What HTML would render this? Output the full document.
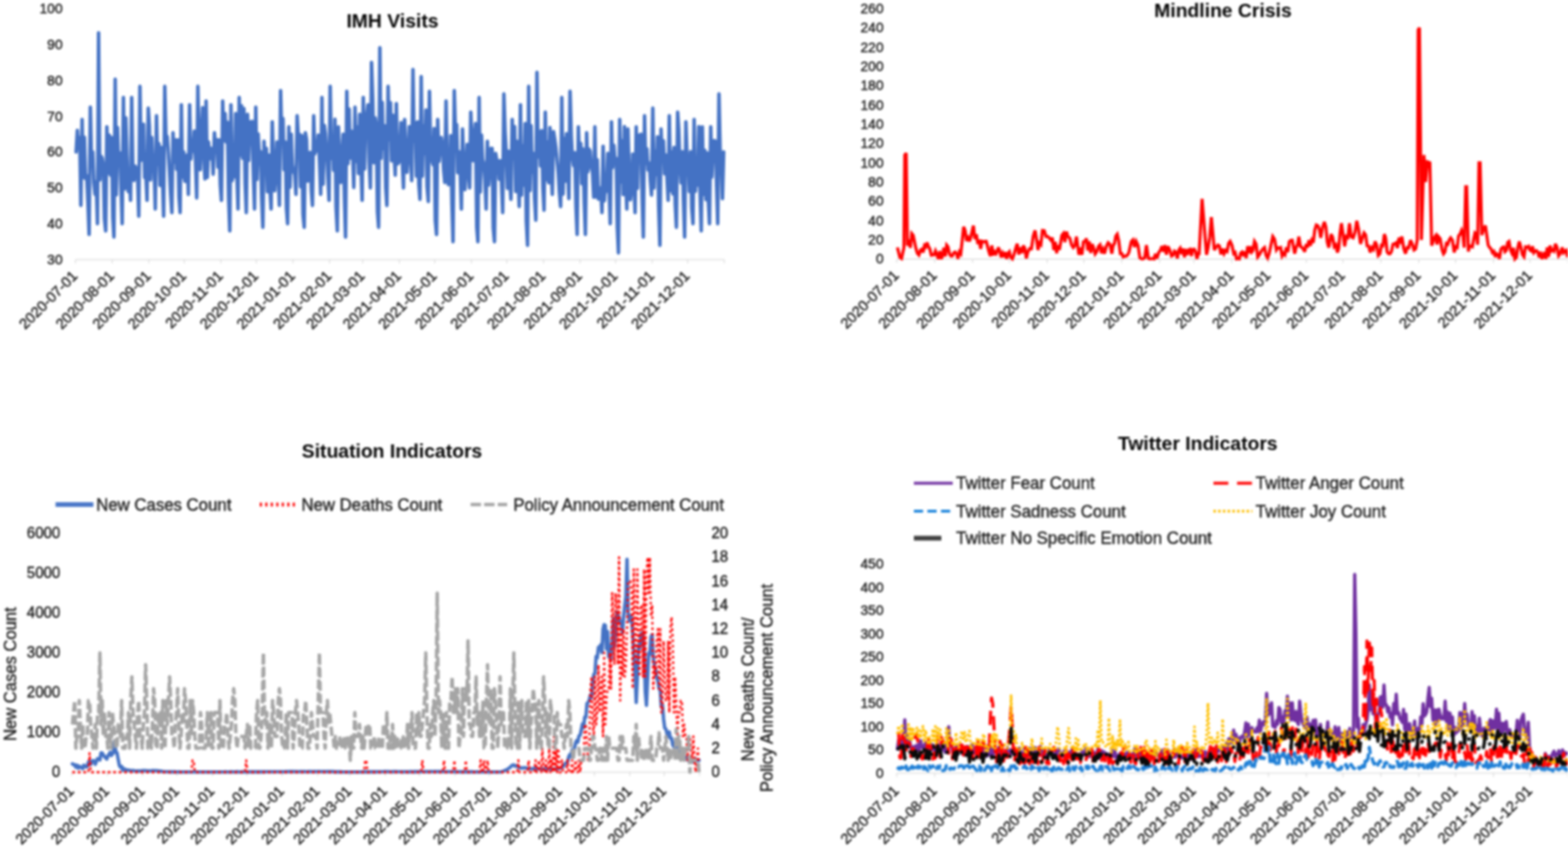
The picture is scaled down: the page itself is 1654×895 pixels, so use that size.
<!DOCTYPE html>
<html lang="en">
<head>
<meta charset="utf-8">
<title>Indicators</title>
<style>
html,body{margin:0;padding:0;background:#fff;}
body{width:1654px;height:895px;overflow:hidden;font-family:"Liberation Sans", Arial, Helvetica, sans-serif;}
svg{display:block;filter:blur(0.8px);}
svg text{font-family:"Liberation Sans", Arial, Helvetica, sans-serif;stroke:#222;stroke-width:0.4px;}
svg text.t{stroke:none;}
</style>
</head>
<body>
<svg width="1654" height="895" viewBox="0 0 1654 895">
<rect x="-10" y="-10" width="1674" height="915" fill="#ffffff"/>
<g id="c1">
<path d="M79.7,274 H764" stroke="#D9D9D9" stroke-width="1" fill="none"/><path d="M79.7,274 v4 M118.3,274 v4 M157,274 v4 M194.4,274 v4 M233,274 v4 M270.4,274 v4 M309,274 v4 M347.7,274 v4 M382.6,274 v4 M421.2,274 v4 M458.6,274 v4 M497.3,274 v4 M534.7,274 v4 M573.3,274 v4 M611.9,274 v4 M649.3,274 v4 M688,274 v4 M725.4,274 v4 M764,274 v4" stroke="#D9D9D9" stroke-width="1" fill="none"/>
<text x="66" y="278.9" text-anchor="end" font-size="14.5" fill="#222222">30</text>
<text x="66" y="241.1" text-anchor="end" font-size="14.5" fill="#222222">40</text>
<text x="66" y="203.2" text-anchor="end" font-size="14.5" fill="#222222">50</text>
<text x="66" y="165.4" text-anchor="end" font-size="14.5" fill="#222222">60</text>
<text x="66" y="127.5" text-anchor="end" font-size="14.5" fill="#222222">70</text>
<text x="66" y="89.6" text-anchor="end" font-size="14.5" fill="#222222">80</text>
<text x="66" y="51.8" text-anchor="end" font-size="14.5" fill="#222222">90</text>
<text x="66" y="13.9" text-anchor="end" font-size="14.5" fill="#222222">100</text>
<text x="82.7" y="292.2" transform="rotate(-45 82.7 292.2)" text-anchor="end" font-size="15.5" fill="#222222">2020-07-01</text>
<text x="121.3" y="292.2" transform="rotate(-45 121.3 292.2)" text-anchor="end" font-size="15.5" fill="#222222">2020-08-01</text>
<text x="160" y="292.2" transform="rotate(-45 160 292.2)" text-anchor="end" font-size="15.5" fill="#222222">2020-09-01</text>
<text x="197.4" y="292.2" transform="rotate(-45 197.4 292.2)" text-anchor="end" font-size="15.5" fill="#222222">2020-10-01</text>
<text x="236" y="292.2" transform="rotate(-45 236 292.2)" text-anchor="end" font-size="15.5" fill="#222222">2020-11-01</text>
<text x="273.4" y="292.2" transform="rotate(-45 273.4 292.2)" text-anchor="end" font-size="15.5" fill="#222222">2020-12-01</text>
<text x="312" y="292.2" transform="rotate(-45 312 292.2)" text-anchor="end" font-size="15.5" fill="#222222">2021-01-01</text>
<text x="350.7" y="292.2" transform="rotate(-45 350.7 292.2)" text-anchor="end" font-size="15.5" fill="#222222">2021-02-01</text>
<text x="385.6" y="292.2" transform="rotate(-45 385.6 292.2)" text-anchor="end" font-size="15.5" fill="#222222">2021-03-01</text>
<text x="424.2" y="292.2" transform="rotate(-45 424.2 292.2)" text-anchor="end" font-size="15.5" fill="#222222">2021-04-01</text>
<text x="461.6" y="292.2" transform="rotate(-45 461.6 292.2)" text-anchor="end" font-size="15.5" fill="#222222">2021-05-01</text>
<text x="500.3" y="292.2" transform="rotate(-45 500.3 292.2)" text-anchor="end" font-size="15.5" fill="#222222">2021-06-01</text>
<text x="537.7" y="292.2" transform="rotate(-45 537.7 292.2)" text-anchor="end" font-size="15.5" fill="#222222">2021-07-01</text>
<text x="576.3" y="292.2" transform="rotate(-45 576.3 292.2)" text-anchor="end" font-size="15.5" fill="#222222">2021-08-01</text>
<text x="614.9" y="292.2" transform="rotate(-45 614.9 292.2)" text-anchor="end" font-size="15.5" fill="#222222">2021-09-01</text>
<text x="652.3" y="292.2" transform="rotate(-45 652.3 292.2)" text-anchor="end" font-size="15.5" fill="#222222">2021-10-01</text>
<text x="691" y="292.2" transform="rotate(-45 691 292.2)" text-anchor="end" font-size="15.5" fill="#222222">2021-11-01</text>
<text x="728.4" y="292.2" transform="rotate(-45 728.4 292.2)" text-anchor="end" font-size="15.5" fill="#222222">2021-12-01</text>
<text x="414" y="28.8" text-anchor="middle" font-size="20.4" font-weight="bold" fill="#050505" class="t">IMH Visits</text>
<path d="M80.3,160.4 L81.6,137.7 L82.8,156.6 L84.1,145.3 L85.3,216.8 L86.6,126 L87.8,187.5 L89,144.8 L90.3,188.7 L91.5,185.5 L92.8,214.7 L94,247.5 L95.3,113.1 L96.5,168.1 L97.8,160.4 L99,193.1 L100.3,205.1 L101.5,191.9 L102.8,236.1 L104,34.7 L105.3,189.8 L106.5,164.8 L107.7,166.7 L109,174.3 L110.2,231.3 L111.5,243.7 L112.7,133.9 L114,182.6 L115.2,142.6 L116.5,185 L117.7,145.2 L119,229.3 L120.2,250.2 L121.5,83.6 L122.7,205.7 L123.9,134.7 L125.2,173.8 L126.4,161.3 L127.7,198.7 L128.9,236.1 L130.2,102.9 L131.4,199.5 L132.7,124.3 L133.9,164.2 L135.2,202.1 L136.4,184.2 L137.7,211.5 L138.9,102.9 L140.2,180.8 L141.4,190.4 L142.6,175.4 L143.9,178.1 L145.1,184 L146.4,228.2 L147.6,91.2 L148.9,169.1 L150.1,168.4 L151.4,131 L152.6,187.5 L153.9,184.9 L155.1,211.5 L156.4,114.2 L157.6,133 L158.8,189.9 L160.1,145.2 L161.3,173.6 L162.6,176.2 L163.8,220.6 L165.1,122.2 L166.3,173.5 L167.6,151.7 L168.8,195.6 L170.1,155.5 L171.3,183.1 L172.6,228.2 L173.8,91.2 L175.1,147.4 L176.3,144.1 L177.5,160.5 L178.8,181.3 L180,204.8 L181.3,224.4 L182.5,140 L183.8,171 L185,147.6 L186.3,178.7 L187.5,147.6 L188.8,207.8 L190,224.4 L191.3,110.5 L192.5,186.9 L193.8,160.4 L195,191.3 L196.2,191.3 L197.5,163.7 L198.7,205.1 L200,110.5 L201.2,167.8 L202.5,151.4 L203.7,159.4 L205,138.4 L206.2,169.5 L207.5,208.9 L208.7,91.2 L210,161.3 L211.2,179.1 L212.4,139.6 L213.7,113.6 L214.9,160.4 L216.2,188.8 L217.4,106.7 L218.7,187.3 L219.9,149.8 L221.2,167.6 L222.4,156.4 L223.7,160.4 L224.9,183.9 L226.2,140 L227.4,154.6 L228.7,147.6 L229.9,176.4 L231.1,147.6 L232.4,195.4 L233.6,211.5 L234.9,106.7 L236.1,148.3 L237.4,119.9 L238.6,150 L239.9,129 L241.1,207.5 L242.4,243.7 L243.6,110.5 L244.9,190.7 L246.1,171.8 L247.3,186.6 L248.6,119.8 L249.8,182.2 L251.1,220.6 L252.3,102.9 L253.6,163.7 L254.8,111.6 L256.1,167.2 L257.3,114.6 L258.6,193.5 L259.8,224.4 L261.1,120.7 L262.3,169.5 L263.6,129 L264.8,128.5 L266,128.2 L267.3,184.5 L268.5,220.6 L269.8,113.1 L271,189.5 L272.3,141.3 L273.5,163.9 L274.8,159.9 L276,208.1 L277.3,239.9 L278.5,149.1 L279.8,173.8 L281,156.6 L282.2,202.4 L283.5,163.5 L284.7,199 L286,220.6 L287.2,128.6 L288.5,172.2 L289.7,201.4 L291,182 L292.2,149.9 L293.5,182.8 L294.7,216.8 L296,95.7 L297.2,145.3 L298.5,125.1 L299.7,179.1 L300.9,149.9 L302.2,220.1 L303.4,236.1 L304.7,133.9 L305.9,197.6 L307.2,141.5 L308.4,174.2 L309.7,181.3 L310.9,184.4 L312.2,205.1 L313.4,122.2 L314.7,145 L315.9,141.7 L317.1,197.1 L318.4,143.2 L319.6,226 L320.9,239.9 L322.1,140 L323.4,147.6 L324.6,191.2 L325.9,174.5 L327.1,160.8 L328.4,200.8 L329.6,216.8 L330.9,122.2 L332.1,162.4 L333.4,151.4 L334.6,159.2 L335.8,142.5 L337.1,172.4 L338.3,205.1 L339.6,102.9 L340.8,194.5 L342.1,132.3 L343.3,140.9 L344.6,161.1 L345.8,184.1 L347.1,211.5 L348.3,91.2 L349.6,167.1 L350.8,144.5 L352,179.8 L353.3,125.9 L354.5,218.9 L355.8,243.7 L357,133.9 L358.3,192.1 L359.5,192.5 L360.8,158.3 L362,141.5 L363.3,207.8 L364.5,250.2 L365.8,96.4 L367,172.8 L368.3,115.1 L369.5,166.9 L370.7,138.3 L372,162 L373.2,197.9 L374.5,113.1 L375.7,170.5 L377,134.1 L378.2,183.1 L379.5,120.7 L380.7,173.2 L382,211.5 L383.2,102.9 L384.5,178.4 L385.7,125.7 L386.9,121.6 L388.2,110.5 L389.4,170.3 L390.7,198.3 L391.9,65.8 L393.2,105 L394.4,171.8 L395.7,124.3 L396.9,132.1 L398.2,223.5 L399.4,239.9 L400.7,50.3 L401.9,167.1 L403.2,108 L404.4,157 L405.6,132.6 L406.9,197.9 L408.1,216.8 L409.4,91.2 L410.6,147.3 L411.9,108.3 L413.1,169.8 L414.4,121.5 L415.6,160.7 L416.9,185 L418.1,109.3 L419.4,172.9 L420.6,171.6 L421.8,158.8 L423.1,129.3 L424.3,168.7 L425.6,198.3 L426.8,126 L428.1,165.9 L429.3,181.9 L430.6,158.9 L431.8,133.6 L433.1,162.6 L434.3,190.7 L435.6,73.4 L436.8,148.8 L438.1,129.6 L439.3,186 L440.5,128.6 L441.8,194.7 L443,210.4 L444.3,80.9 L445.5,185.9 L446.8,133 L448,161.8 L449.3,116.2 L450.5,196.9 L451.8,212.7 L453,96.4 L454.3,159.5 L455.5,168.9 L456.8,173.8 L458,135.6 L459.2,232.6 L460.5,247.5 L461.7,126 L463,170.3 L464.2,155.7 L465.5,145 L466.7,152.4 L468,179.5 L469.2,192.6 L470.5,106.7 L471.7,175 L473,194.8 L474.2,190.6 L475.4,143.2 L476.7,214.5 L477.9,255.1 L479.2,95.7 L480.4,138.2 L481.7,131.5 L482.9,182.3 L484.2,160.2 L485.4,180.8 L486.7,220.6 L487.9,136.2 L489.2,175.3 L490.4,200.1 L491.7,173.9 L492.9,152.4 L494.1,181.4 L495.4,198.3 L496.6,118.4 L497.9,153.6 L499.1,169.7 L500.4,142.1 L501.6,130.3 L502.9,239.8 L504.1,255.1 L505.4,102.9 L506.6,202.6 L507.9,142.6 L509.1,168.3 L510.3,172.9 L511.6,190.5 L512.8,220.6 L514.1,149.1 L515.3,195.4 L516.6,179.5 L517.8,156.6 L519.1,156.6 L520.3,240.5 L521.6,255.1 L522.8,161.9 L524.1,169.5 L525.3,169.5 L526.6,189.2 L527.8,169.5 L529,192.6 L530.3,224.4 L531.5,99.1 L532.8,139.3 L534,160.7 L535.3,198.8 L536.5,159.6 L537.8,193.4 L539,210.4 L540.3,126 L541.5,167.4 L542.8,133.6 L544,202.1 L545.2,149.1 L546.5,186.2 L547.7,218 L549,110.5 L550.2,205.9 L551.5,154 L552.7,195.5 L554,130.3 L555.2,233.7 L556.5,258.9 L557.7,91.2 L559,201.2 L560.2,132.7 L561.5,181.7 L562.7,161.9 L563.9,209.4 L565.2,232.4 L566.4,76.4 L567.7,165.7 L568.9,138.8 L570.2,175.1 L571.4,137.8 L572.7,198.9 L573.9,221.8 L575.2,118.4 L576.4,189.6 L577.7,149.8 L578.9,192.9 L580.1,134.5 L581.4,177.7 L582.6,205.1 L583.9,138.8 L585.1,146.4 L586.4,156 L587.6,168.9 L588.9,182.5 L590.1,203.3 L591.4,218 L592.6,102.9 L593.9,205 L595.1,146.2 L596.4,191.1 L597.6,141 L598.8,179 L600.1,209.6 L601.3,96.4 L602.6,143 L603.8,166.1 L605.1,174.8 L606.3,161.2 L607.6,219.3 L608.8,247.5 L610.1,133.9 L611.3,171.2 L612.6,151.4 L613.8,193.9 L615,157.2 L616.3,213.8 L617.5,247.5 L618.8,140 L620,181.4 L621.3,157.4 L622.5,159.7 L623.8,176.5 L625,181.5 L626.3,208.1 L627.5,133.9 L628.8,207.9 L630,168.6 L631.3,210.1 L632.5,208.6 L633.7,198.4 L635,224.4 L636.2,154.4 L637.5,211.9 L638.7,193.3 L640,201.8 L641.2,161.9 L642.5,197 L643.7,236.1 L645,128.6 L646.2,177 L647.5,153.3 L648.7,170.2 L650,167.3 L651.2,240.4 L652.4,266.8 L653.7,126 L654.9,191.8 L656.2,148.7 L657.4,205.4 L658.7,133.6 L659.9,184.6 L661.2,220.6 L662.4,136.2 L663.7,183.4 L664.9,210.8 L666.2,199.7 L667.4,162.5 L668.6,189.7 L669.9,224.4 L671.1,133.9 L672.4,198.8 L673.6,142.9 L674.9,164 L676.1,141.5 L677.4,208.9 L678.6,250.2 L679.9,122.2 L681.1,172.3 L682.4,157.2 L683.6,179.3 L684.9,172.1 L686.1,191.6 L687.3,205.9 L688.6,114.2 L689.8,198.4 L691.1,160 L692.3,184.2 L693.6,144.3 L694.8,218.9 L696.1,258.9 L697.3,136.2 L698.6,169.8 L699.8,148.7 L701.1,183.4 L702.3,163.7 L703.5,185.7 L704.8,211.5 L706,122.2 L707.3,201.2 L708.5,160.3 L709.8,204.7 L711,155.7 L712.3,216 L713.5,239.9 L714.8,118.4 L716,136.6 L717.3,176.4 L718.5,193 L719.8,160.2 L721,212.4 L722.2,250.2 L723.5,128.6 L724.7,163.3 L726,168.6 L727.2,202.1 L728.5,160 L729.7,219.9 L731,236.1 L732.2,126 L733.5,202 L734.7,166.9 L736,195.5 L737.2,133.6 L738.4,201.2 L739.7,243.7 L740.9,133.9 L742.2,205.2 L743.4,158.6 L744.7,210.7 L745.9,161.4 L747.2,212.5 L748.4,236.1 L749.7,133.9 L750.9,186.9 L752.2,155.6 L753.4,148.3 L754.7,149.3 L755.9,196.3 L757.1,236.1 L758.4,99.1 L759.6,156.6 L760.9,171.8 L762.1,209.6 L763.4,160.4" fill="none" stroke="#4472C4" stroke-width="3.7" stroke-linejoin="round" stroke-linecap="round"/>
</g>
<g id="c2">
<path d="M946,273.5 H1654" stroke="#D9D9D9" stroke-width="1" fill="none"/><path d="M946,273.5 v4 M986,273.5 v4 M1026,273.5 v4 M1064.6,273.5 v4 M1104.6,273.5 v4 M1143.3,273.5 v4 M1183.3,273.5 v4 M1223.3,273.5 v4 M1259.4,273.5 v4 M1299.4,273.5 v4 M1338,273.5 v4 M1378,273.5 v4 M1416.7,273.5 v4 M1456.7,273.5 v4 M1496.7,273.5 v4 M1535.4,273.5 v4 M1575.3,273.5 v4 M1614,273.5 v4 M1654,273.5 v4" stroke="#D9D9D9" stroke-width="1" fill="none"/>
<text x="932" y="278.4" text-anchor="end" font-size="14.5" fill="#222222">0</text>
<text x="932" y="258.1" text-anchor="end" font-size="14.5" fill="#222222">20</text>
<text x="932" y="237.7" text-anchor="end" font-size="14.5" fill="#222222">40</text>
<text x="932" y="217.4" text-anchor="end" font-size="14.5" fill="#222222">60</text>
<text x="932" y="197" text-anchor="end" font-size="14.5" fill="#222222">80</text>
<text x="932" y="176.7" text-anchor="end" font-size="14.5" fill="#222222">100</text>
<text x="932" y="156.4" text-anchor="end" font-size="14.5" fill="#222222">120</text>
<text x="932" y="136" text-anchor="end" font-size="14.5" fill="#222222">140</text>
<text x="932" y="115.7" text-anchor="end" font-size="14.5" fill="#222222">160</text>
<text x="932" y="95.3" text-anchor="end" font-size="14.5" fill="#222222">180</text>
<text x="932" y="75" text-anchor="end" font-size="14.5" fill="#222222">200</text>
<text x="932" y="54.6" text-anchor="end" font-size="14.5" fill="#222222">220</text>
<text x="932" y="34.3" text-anchor="end" font-size="14.5" fill="#222222">240</text>
<text x="932" y="13.9" text-anchor="end" font-size="14.5" fill="#222222">260</text>
<text x="949" y="291.7" transform="rotate(-45 949 291.7)" text-anchor="end" font-size="15.5" fill="#222222">2020-07-01</text>
<text x="989" y="291.7" transform="rotate(-45 989 291.7)" text-anchor="end" font-size="15.5" fill="#222222">2020-08-01</text>
<text x="1029" y="291.7" transform="rotate(-45 1029 291.7)" text-anchor="end" font-size="15.5" fill="#222222">2020-09-01</text>
<text x="1067.6" y="291.7" transform="rotate(-45 1067.6 291.7)" text-anchor="end" font-size="15.5" fill="#222222">2020-10-01</text>
<text x="1107.6" y="291.7" transform="rotate(-45 1107.6 291.7)" text-anchor="end" font-size="15.5" fill="#222222">2020-11-01</text>
<text x="1146.3" y="291.7" transform="rotate(-45 1146.3 291.7)" text-anchor="end" font-size="15.5" fill="#222222">2020-12-01</text>
<text x="1186.3" y="291.7" transform="rotate(-45 1186.3 291.7)" text-anchor="end" font-size="15.5" fill="#222222">2021-01-01</text>
<text x="1226.3" y="291.7" transform="rotate(-45 1226.3 291.7)" text-anchor="end" font-size="15.5" fill="#222222">2021-02-01</text>
<text x="1262.4" y="291.7" transform="rotate(-45 1262.4 291.7)" text-anchor="end" font-size="15.5" fill="#222222">2021-03-01</text>
<text x="1302.4" y="291.7" transform="rotate(-45 1302.4 291.7)" text-anchor="end" font-size="15.5" fill="#222222">2021-04-01</text>
<text x="1341" y="291.7" transform="rotate(-45 1341 291.7)" text-anchor="end" font-size="15.5" fill="#222222">2021-05-01</text>
<text x="1381" y="291.7" transform="rotate(-45 1381 291.7)" text-anchor="end" font-size="15.5" fill="#222222">2021-06-01</text>
<text x="1419.7" y="291.7" transform="rotate(-45 1419.7 291.7)" text-anchor="end" font-size="15.5" fill="#222222">2021-07-01</text>
<text x="1459.7" y="291.7" transform="rotate(-45 1459.7 291.7)" text-anchor="end" font-size="15.5" fill="#222222">2021-08-01</text>
<text x="1499.7" y="291.7" transform="rotate(-45 1499.7 291.7)" text-anchor="end" font-size="15.5" fill="#222222">2021-09-01</text>
<text x="1538.4" y="291.7" transform="rotate(-45 1538.4 291.7)" text-anchor="end" font-size="15.5" fill="#222222">2021-10-01</text>
<text x="1578.3" y="291.7" transform="rotate(-45 1578.3 291.7)" text-anchor="end" font-size="15.5" fill="#222222">2021-11-01</text>
<text x="1617" y="291.7" transform="rotate(-45 1617 291.7)" text-anchor="end" font-size="15.5" fill="#222222">2021-12-01</text>
<text x="1290" y="17.8" text-anchor="middle" font-size="20.4" font-weight="bold" fill="#050505" class="t">Mindline Crisis</text>
<path d="M946.6,261.2 L949.2,271.5 L951,272.8 L953.5,261.3 L954.4,163.6 L955.9,161.6 L957.2,259.3 L958.8,252.9 L960.3,261.6 L961.8,246.5 L963.3,248.4 L965.9,261.2 L967.6,267.2 L969.3,269.1 L971.1,263.8 L972.4,263 L973.8,266.4 L975.2,259.2 L976.5,260.5 L977.9,256 L979.3,260 L980.8,262.6 L982.4,269.3 L983.9,268.9 L985.4,268.9 L986.8,264.9 L988.3,268.8 L989.8,273.2 L991.3,265 L992.7,273.2 L994.2,270.2 L995.6,261.6 L997.1,270.5 L998.6,258.7 L1000,260.4 L1001.5,267.9 L1003,270.2 L1004.5,270.2 L1006,266.9 L1007.5,266.1 L1009,267.7 L1010.5,273.2 L1012,265.9 L1013.5,267.7 L1015,253.7 L1016.5,239.4 L1018.1,243.7 L1019.6,254.4 L1021.2,251 L1022.6,254.7 L1024,250.3 L1025.4,244.2 L1026.8,238.1 L1028.4,252.4 L1029.9,247.3 L1031.5,257.4 L1032.9,253 L1034.4,262.6 L1035.9,254.7 L1037.3,255.2 L1038.8,254.9 L1040.3,254.8 L1041.7,260 L1043.2,265.7 L1044.7,270.2 L1046.2,259.1 L1047.7,269.4 L1049.2,265.9 L1050.7,267.7 L1053.3,261.2 L1054.7,265.8 L1056.2,271.6 L1057.6,267.5 L1059,271.3 L1060.4,266.1 L1061.9,273.2 L1063.3,267.4 L1064.7,265.7 L1066.1,271.5 L1067.9,273.2 L1069.6,268.8 L1071.3,262.5 L1073,257.3 L1074.7,268.6 L1076.4,261.2 L1078,267.2 L1079.5,259.1 L1081.1,262.3 L1082.6,272.7 L1084.1,266.4 L1086.1,262.4 L1088,262.5 L1089.9,249.3 L1091.8,243.3 L1093.4,252.4 L1094.9,263.8 L1096.5,256.6 L1098,258.2 L1099.6,243.3 L1101.5,243.5 L1103.4,249.7 L1105.1,249.6 L1106.8,251.2 L1108.6,253.5 L1110.1,250.9 L1111.6,263.9 L1113.1,255.3 L1114.6,267.2 L1116,258.7 L1117.5,263.8 L1120.1,248.4 L1121.7,246.5 L1123.3,255.5 L1124.9,244.6 L1126.5,249.7 L1128.5,251.4 L1130.4,258.7 L1132.1,261.3 L1133.8,259 L1135.5,249.7 L1138.1,268.9 L1139.7,261.3 L1141.3,268.9 L1142.9,255.3 L1144.5,254.8 L1146,251.8 L1147.5,264.2 L1149,254.7 L1150.5,267 L1152,257.7 L1153.5,261.2 L1155.2,268 L1157,265.6 L1158.7,260 L1160.3,258.4 L1161.9,267.3 L1163.5,263 L1165.1,267.7 L1167,260 L1168.9,256.1 L1170.9,258.1 L1172.8,267.7 L1174.2,259 L1175.6,257 L1177,249.1 L1178.5,247.1 L1180.1,254.1 L1181.8,267.7 L1183.3,267.7 L1184.8,271 L1186.3,270.3 L1187.8,270.4 L1189.3,269.3 L1190.8,266.4 L1193.4,254.8 L1195.1,253.2 L1196.8,260.7 L1198.5,254.8 L1200.4,258.9 L1202.4,272 L1204.1,273.2 L1205.8,273.2 L1207.5,272 L1209.3,258.7 L1211.4,272.8 L1212.9,273.2 L1214.4,273.2 L1215.9,272.8 L1217.3,273.2 L1218.8,267.9 L1220.3,272.8 L1222.3,266.5 L1224.2,263.8 L1225.7,259.9 L1227.3,265.6 L1228.8,258.8 L1230.4,268.7 L1231.9,260 L1233.8,263.6 L1235.8,270.2 L1237.3,269.4 L1238.9,265 L1240.4,266.1 L1241.9,272.6 L1243.5,263.8 L1244.9,261.9 L1246.4,268 L1247.9,262.2 L1249.4,271.5 L1250.8,262.9 L1252.3,269.1 L1253.8,263.8 L1255.2,263.1 L1256.7,270.2 L1258.2,263.3 L1259.6,263 L1261.1,265.4 L1262.6,273.2 L1264,267.7 L1264.9,267.7 L1268,209.9 L1272.7,268.9 L1274.4,261.2 L1276.1,250.2 L1277.8,229.2 L1279.3,245.6 L1280.9,263.8 L1282.8,260.9 L1284.7,258.7 L1286.3,259.8 L1287.9,268.4 L1289.5,262.5 L1291.2,267.7 L1292.8,264.3 L1294.4,265.5 L1296,256.7 L1297.6,254.8 L1299.5,258.8 L1301.4,267.7 L1302.9,266.5 L1304.4,273.2 L1305.8,272.7 L1307.3,273.2 L1308.8,266.9 L1310.2,266 L1311.7,270.2 L1313.2,265.6 L1314.6,272.4 L1316.1,259.9 L1317.5,267.3 L1318.9,260 L1320.4,265.9 L1321.8,264 L1323.3,254.8 L1325,257.6 L1326.7,271.1 L1328.4,268.9 L1330.3,265.4 L1332.3,262.5 L1333.9,261.2 L1335.5,269.5 L1337.1,272.2 L1338.7,267.7 L1340.6,258.8 L1342.6,249.7 L1344.5,252.7 L1346.4,263.8 L1347.9,261.5 L1349.4,262 L1350.9,261.3 L1352.4,270 L1353.9,267.4 L1355.4,268.9 L1356.9,261 L1358.5,266.1 L1360,255.1 L1361.6,253.7 L1363.1,253.5 L1365.7,267.7 L1367.1,261.3 L1368.6,258.5 L1370.1,249.7 L1371.7,260.1 L1373.4,261.2 L1374.9,263 L1376.3,265.7 L1377.8,257.7 L1379.3,261.1 L1380.7,253.5 L1382.2,259.3 L1383.7,253.5 L1385.3,256.1 L1386.9,242.8 L1388.5,237.4 L1390.1,238.1 L1391.6,241.6 L1393.2,251 L1395.1,240.1 L1397,234.3 L1398.6,239.6 L1400.1,255.5 L1401.7,261.2 L1404.2,247.1 L1405.8,250.4 L1407.4,260.3 L1409.1,258.4 L1410.7,266.4 L1412.1,262.4 L1413.6,245.6 L1415,235.6 L1416.7,246.9 L1418.4,260 L1420.1,249.6 L1421.8,250.7 L1423.5,235.6 L1425.4,249.9 L1427.4,251 L1429.3,245.4 L1431.2,233 L1433.1,241.9 L1435.1,257.4 L1437,251.5 L1438.9,245.8 L1440.5,247.8 L1442.1,259.4 L1443.7,259.8 L1445.4,266.4 L1447.1,261.2 L1448.8,263.2 L1450.5,254.8 L1452.2,258.8 L1453.9,269.5 L1455.6,267.7 L1457.2,258.9 L1458.7,259.4 L1460.3,247.1 L1461.7,251.3 L1463.2,265.6 L1464.6,267.7 L1466.2,267.8 L1467.8,265.3 L1469.4,257.8 L1471.1,257.4 L1472.6,256.4 L1474.1,261.8 L1475.7,250.9 L1477.2,254.3 L1478.8,249.7 L1480.7,262.1 L1482.6,267.7 L1484.3,261.3 L1486,261.6 L1487.8,253.5 L1489.7,257.6 L1491.6,263.8 L1493.3,262.6 L1495,253.2 L1496,31.4 L1497.3,29.3 L1499.4,253.2 L1502,163.6 L1503.8,192.1 L1505.7,170.8 L1508.3,171.8 L1510.2,259.3 L1511.6,255.2 L1513.1,250.8 L1514.5,248.8 L1515.9,257.9 L1517.3,249.7 L1519.2,252 L1521.2,263.8 L1522.7,267.9 L1524.2,265.8 L1525.7,257 L1527.2,257.9 L1528.7,253.2 L1530.2,251 L1532.1,253.7 L1534,266.4 L1535.6,260.5 L1537.1,261.3 L1538.6,249 L1540.2,247.1 L1541.7,243.3 L1543.1,247.5 L1544.5,261.3 L1546.1,197.2 L1547.1,197.2 L1548.9,265.4 L1550.3,259.6 L1551.7,260.1 L1553.1,260.6 L1554.5,252.5 L1555.9,245.8 L1557.3,247 L1558.7,258.2 L1560.1,171.8 L1561.3,171.8 L1563.1,248.1 L1565,241.7 L1566.9,238.1 L1568.4,248.8 L1569.8,258.8 L1571.3,261.2 L1572.8,262.7 L1574.3,266.6 L1575.8,265.3 L1577.3,271.2 L1578.8,267.9 L1580.3,268.9 L1581.7,273.2 L1583.2,263.1 L1584.6,261.2 L1586.1,260.6 L1587.5,265.7 L1589,264.2 L1590.4,255.9 L1591.8,254.8 L1593.4,263.7 L1594.9,267.2 L1596.5,261.8 L1598,273.2 L1599.6,271.5 L1601.1,261.2 L1602.6,254.8 L1604.3,261.1 L1606,268.9 L1607.6,271 L1609.2,260.6 L1610.8,261 L1612.4,260 L1613.8,263.9 L1615.2,264.8 L1616.6,260 L1618,266.6 L1619.4,264.9 L1620.8,264.5 L1622.2,266.4 L1623.6,271.7 L1625,265.7 L1626.4,273.2 L1627.8,270.2 L1629.3,266.1 L1630.7,273.2 L1632.1,261.1 L1633.5,271 L1635,259.1 L1636.4,264.9 L1637.8,263.7 L1639.2,265.1 L1640.7,257.4 L1642.4,261 L1644.1,269.9 L1645.8,267.7 L1647.9,261.2 L1649.3,266.6 L1650.7,264.9 L1652.1,264.1 L1653.5,271.5" fill="none" stroke="#FF0000" stroke-width="3.2" stroke-linejoin="miter" stroke-miterlimit="3"/>
</g>
<g id="c3">
<path d="M75.8,815 H738" stroke="#D9D9D9" stroke-width="1" fill="none"/><path d="M75.8,815 v4 M113.2,815 v4 M150.6,815 v4 M186.8,815 v4 M224.2,815 v4 M260.3,815 v4 M297.7,815 v4 M335.1,815 v4 M368.9,815 v4 M406.3,815 v4 M442.5,815 v4 M479.9,815 v4 M516.1,815 v4 M553.5,815 v4 M590.8,815 v4 M627,815 v4 M664.4,815 v4 M700.6,815 v4 M738,815 v4" stroke="#D9D9D9" stroke-width="1" fill="none"/>
<text x="63.5" y="820.2" text-anchor="end" font-size="15.8" fill="#222222">0</text>
<text x="63.5" y="778.2" text-anchor="end" font-size="15.8" fill="#222222">1000</text>
<text x="63.5" y="736.2" text-anchor="end" font-size="15.8" fill="#222222">2000</text>
<text x="63.5" y="694.2" text-anchor="end" font-size="15.8" fill="#222222">3000</text>
<text x="63.5" y="652.2" text-anchor="end" font-size="15.8" fill="#222222">4000</text>
<text x="63.5" y="610.2" text-anchor="end" font-size="15.8" fill="#222222">5000</text>
<text x="63.5" y="568.2" text-anchor="end" font-size="15.8" fill="#222222">6000</text>
<text x="750.5" y="820.2" text-anchor="start" font-size="15.8" fill="#222222">0</text>
<text x="750.5" y="795" text-anchor="start" font-size="15.8" fill="#222222">2</text>
<text x="750.5" y="769.8" text-anchor="start" font-size="15.8" fill="#222222">4</text>
<text x="750.5" y="744.6" text-anchor="start" font-size="15.8" fill="#222222">6</text>
<text x="750.5" y="719.4" text-anchor="start" font-size="15.8" fill="#222222">8</text>
<text x="750.5" y="694.2" text-anchor="start" font-size="15.8" fill="#222222">10</text>
<text x="750.5" y="669" text-anchor="start" font-size="15.8" fill="#222222">12</text>
<text x="750.5" y="643.8" text-anchor="start" font-size="15.8" fill="#222222">14</text>
<text x="750.5" y="618.6" text-anchor="start" font-size="15.8" fill="#222222">16</text>
<text x="750.5" y="593.4" text-anchor="start" font-size="15.8" fill="#222222">18</text>
<text x="750.5" y="568.2" text-anchor="start" font-size="15.8" fill="#222222">20</text>
<text x="78.8" y="836" transform="rotate(-45 78.8 836)" text-anchor="end" font-size="15.5" fill="#222222">2020-07-01</text>
<text x="116.2" y="836" transform="rotate(-45 116.2 836)" text-anchor="end" font-size="15.5" fill="#222222">2020-08-01</text>
<text x="153.6" y="836" transform="rotate(-45 153.6 836)" text-anchor="end" font-size="15.5" fill="#222222">2020-09-01</text>
<text x="189.8" y="836" transform="rotate(-45 189.8 836)" text-anchor="end" font-size="15.5" fill="#222222">2020-10-01</text>
<text x="227.2" y="836" transform="rotate(-45 227.2 836)" text-anchor="end" font-size="15.5" fill="#222222">2020-11-01</text>
<text x="263.3" y="836" transform="rotate(-45 263.3 836)" text-anchor="end" font-size="15.5" fill="#222222">2020-12-01</text>
<text x="300.7" y="836" transform="rotate(-45 300.7 836)" text-anchor="end" font-size="15.5" fill="#222222">2021-01-01</text>
<text x="338.1" y="836" transform="rotate(-45 338.1 836)" text-anchor="end" font-size="15.5" fill="#222222">2021-02-01</text>
<text x="371.9" y="836" transform="rotate(-45 371.9 836)" text-anchor="end" font-size="15.5" fill="#222222">2021-03-01</text>
<text x="409.3" y="836" transform="rotate(-45 409.3 836)" text-anchor="end" font-size="15.5" fill="#222222">2021-04-01</text>
<text x="445.5" y="836" transform="rotate(-45 445.5 836)" text-anchor="end" font-size="15.5" fill="#222222">2021-05-01</text>
<text x="482.9" y="836" transform="rotate(-45 482.9 836)" text-anchor="end" font-size="15.5" fill="#222222">2021-06-01</text>
<text x="519.1" y="836" transform="rotate(-45 519.1 836)" text-anchor="end" font-size="15.5" fill="#222222">2021-07-01</text>
<text x="556.5" y="836" transform="rotate(-45 556.5 836)" text-anchor="end" font-size="15.5" fill="#222222">2021-08-01</text>
<text x="593.8" y="836" transform="rotate(-45 593.8 836)" text-anchor="end" font-size="15.5" fill="#222222">2021-09-01</text>
<text x="630" y="836" transform="rotate(-45 630 836)" text-anchor="end" font-size="15.5" fill="#222222">2021-10-01</text>
<text x="667.4" y="836" transform="rotate(-45 667.4 836)" text-anchor="end" font-size="15.5" fill="#222222">2021-11-01</text>
<text x="703.6" y="836" transform="rotate(-45 703.6 836)" text-anchor="end" font-size="15.5" fill="#222222">2021-12-01</text>
<text x="413.5" y="483.3" text-anchor="middle" font-size="20.4" font-weight="bold" fill="#050505" class="t">Situation Indicators</text>
<path d="M58.6,532.5 H98.5" stroke="#4E7AC9" stroke-width="4.8" fill="none"/>
<text x="101.5" y="538.5" font-size="17.7" fill="#222222">New Cases Count</text>
<path d="M274,532.5 H313.6" stroke="#FF0000" stroke-width="4.2" stroke-dasharray="2.3 3.5" fill="none"/>
<text x="318" y="538.5" font-size="17.7" fill="#222222">New Deaths Count</text>
<path d="M496.4,532.5 H535" stroke="#A5A5A5" stroke-width="3.6" stroke-dasharray="11 3.3" fill="none"/>
<text x="541.4" y="538.5" font-size="17.7" fill="#222222">Policy Announcement Count</text>
<text transform="translate(16.5 711.5) rotate(-90)" text-anchor="middle" font-size="17.5" fill="#222222">New Cases Count</text>
<text transform="translate(795 727.5) rotate(-90)" text-anchor="middle" font-size="17.5" fill="#222222">New Deaths Count/</text>
<text transform="translate(815 726) rotate(-90)" text-anchor="middle" font-size="17.5" fill="#222222">Policy Announcement Count</text>
<path d="M76.4,806.2 L77.6,807.1 L78.8,807 L80,809.7 L81.2,807.6 L82.4,810.7 L83.6,808.7 L84.8,810 L86.1,809.5 L87.3,811.3 L88.5,807.6 L89.7,808.4 L90.9,809.5 L92.1,809.2 L93.3,804.1 L94.5,803.2 L95.7,806.9 L96.9,803.6 L98.1,802.7 L99.3,803.2 L100.5,806.6 L101.7,803.4 L102.9,800.7 L104.1,801.1 L105.4,802 L106.6,794.6 L107.8,794.8 L109,796.7 L110.2,798.5 L111.4,799.8 L112.6,801.1 L113.8,797.8 L115,796.2 L116.2,794 L117.4,797.4 L118.6,795.9 L119.8,793.2 L121,782.2 L122.2,794 L123.4,794.5 L124.7,801.5 L125.9,807.9 L127.1,809.8 L128.3,808.8 L129.5,813.1 L130.7,811.2 L131.9,812.5 L133.1,812.3 L134.3,813 L135.5,812.7 L136.7,813.1 L137.9,813.4 L139.1,813.4 L140.3,813.3 L141.5,813.4 L142.7,813.7 L143.9,813.9 L145.2,813.6 L146.4,813.9 L147.6,813.6 L148.8,813.7 L150,813.4 L151.2,813.4 L152.4,813.6 L153.6,813.3 L154.8,813.6 L156,813.7 L157.2,813.4 L158.4,813.7 L159.6,813.6 L160.8,813.4 L162,813.3 L163.2,813.5 L164.5,813.3 L165.7,813.7 L166.9,813.5 L168.1,813.9 L169.3,813.9 L170.5,814.1 L171.7,814.4 L172.9,814.5 L174.1,814.5 L175.3,814.5 L176.5,814.5 L177.7,814.5 L178.9,814.6 L180.1,814.6 L181.3,814.5 L182.5,814.6 L183.8,814.6 L185,814.6 L186.2,814.7 L187.4,814.7 L188.6,814.6 L189.8,814.7 L191,814.7 L192.2,814.8 L193.4,814.8 L194.6,814.8 L195.8,814.8 L197,814.8 L198.2,814.8 L199.4,814.8 L200.6,814.8 L201.8,814.8 L203.1,814.8 L204.3,814.8 L205.5,814.8 L206.7,814.7 L207.9,814.7 L209.1,814.8 L210.3,814.8 L211.5,814.7 L212.7,814.7 L213.9,814.8 L215.1,814.7 L216.3,814.7 L217.5,814.7 L218.7,814.7 L219.9,814.7 L221.1,814.7 L222.4,814.7 L223.6,814.7 L224.8,814.7 L226,814.7 L227.2,814.7 L228.4,814.7 L229.6,814.7 L230.8,814.7 L232,814.7 L233.2,814.7 L234.4,814.7 L235.6,814.7 L236.8,814.7 L238,814.6 L239.2,814.7 L240.4,814.7 L241.7,814.7 L242.9,814.6 L244.1,814.7 L245.3,814.6 L246.5,814.7 L247.7,814.7 L248.9,814.6 L250.1,814.6 L251.3,814.6 L252.5,814.7 L253.7,814.7 L254.9,814.6 L256.1,814.6 L257.3,814.6 L258.5,814.6 L259.7,814.6 L261,814.6 L262.2,814.6 L263.4,814.6 L264.6,814.5 L265.8,814.6 L267,814.6 L268.2,814.6 L269.4,814.5 L270.6,814.6 L271.8,814.6 L273,814.6 L274.2,814.6 L275.4,814.6 L276.6,814.5 L277.8,814.6 L279,814.6 L280.2,814.5 L281.5,814.5 L282.7,814.5 L283.9,814.5 L285.1,814.5 L286.3,814.5 L287.5,814.6 L288.7,814.5 L289.9,814.5 L291.1,814.5 L292.3,814.5 L293.5,814.5 L294.7,814.5 L295.9,814.5 L297.1,814.5 L298.3,814.6 L299.5,814.5 L300.8,814.5 L302,814.4 L303.2,814.5 L304.4,814.4 L305.6,814.4 L306.8,814.4 L308,814.4 L309.2,814.4 L310.4,814.4 L311.6,814.5 L312.8,814.4 L314,814.5 L315.2,814.5 L316.4,814.4 L317.6,814.4 L318.8,814.5 L320.1,814.4 L321.3,814.4 L322.5,814.5 L323.7,814.5 L324.9,814.4 L326.1,814.4 L327.3,814.4 L328.5,814.4 L329.7,814.5 L330.9,814.4 L332.1,814.3 L333.3,814.5 L334.5,814.3 L335.7,814.3 L336.9,814.3 L338.1,814.3 L339.4,814.5 L340.6,814.4 L341.8,814.3 L343,814.5 L344.2,814.4 L345.4,814.4 L346.6,814.4 L347.8,814.4 L349,814.4 L350.2,814.4 L351.4,814.4 L352.6,814.6 L353.8,814.6 L355,814.6 L356.2,814.6 L357.4,814.6 L358.7,814.6 L359.9,814.6 L361.1,814.7 L362.3,814.7 L363.5,814.7 L364.7,814.8 L365.9,814.8 L367.1,814.8 L368.3,814.8 L369.5,814.8 L370.7,814.8 L371.9,814.8 L373.1,814.7 L374.3,814.8 L375.5,814.7 L376.7,814.7 L378,814.7 L379.2,814.7 L380.4,814.7 L381.6,814.7 L382.8,814.6 L384,814.6 L385.2,814.6 L386.4,814.6 L387.6,814.6 L388.8,814.6 L390,814.6 L391.2,814.6 L392.4,814.5 L393.6,814.6 L394.8,814.5 L396,814.6 L397.3,814.6 L398.5,814.5 L399.7,814.5 L400.9,814.6 L402.1,814.5 L403.3,814.5 L404.5,814.5 L405.7,814.4 L406.9,814.4 L408.1,814.5 L409.3,814.4 L410.5,814.5 L411.7,814.5 L412.9,814.5 L414.1,814.6 L415.3,814.4 L416.5,814.5 L417.8,814.4 L419,814.5 L420.2,814.5 L421.4,814.5 L422.6,814.5 L423.8,814.6 L425,814.5 L426.2,814.6 L427.4,814.5 L428.6,814.5 L429.8,814.6 L431,814.6 L432.2,814.6 L433.4,814.4 L434.6,814.5 L435.8,814.6 L437.1,814.4 L438.3,814.6 L439.5,814.4 L440.7,814.5 L441.9,814.4 L443.1,814.4 L444.3,814.5 L445.5,814.5 L446.7,814.4 L447.9,814.5 L449.1,814.4 L450.3,814.5 L451.5,814.4 L452.7,814.5 L453.9,814.4 L455.1,814.3 L456.4,814.5 L457.6,814.4 L458.8,814.4 L460,814.3 L461.2,814.4 L462.4,814.4 L463.6,814.4 L464.8,814.4 L466,814.4 L467.2,814.4 L468.4,814.4 L469.6,814.5 L470.8,814.5 L472,814.5 L473.2,814.5 L474.4,814.5 L475.7,814.5 L476.9,814.4 L478.1,814.5 L479.3,814.5 L480.5,814.6 L481.7,814.5 L482.9,814.5 L484.1,814.5 L485.3,814.6 L486.5,814.6 L487.7,814.6 L488.9,814.6 L490.1,814.5 L491.3,814.6 L492.5,814.7 L493.7,814.6 L495,814.6 L496.2,814.6 L497.4,814.6 L498.6,814.6 L499.8,814.7 L501,814.7 L502.2,814.7 L503.4,814.6 L504.6,814.7 L505.8,814.7 L507,814.6 L508.2,814.6 L509.4,814.7 L510.6,814.7 L511.8,814.7 L513,814.7 L514.3,814.7 L515.5,814.7 L516.7,814.7 L517.9,814.7 L519.1,814.7 L520.3,814.7 L521.5,814.7 L522.7,814.7 L523.9,814.7 L525.1,814.7 L526.3,814.8 L527.5,814.7 L528.7,814.7 L529.9,814.3 L531.1,813.8 L532.3,813.4 L533.6,812.7 L534.8,812.5 L536,811.2 L537.2,810.5 L538.4,809.6 L539.6,808.2 L540.8,807.6 L542,807.3 L543.2,808.6 L544.4,808.4 L545.6,808.4 L546.8,809.7 L548,810.4 L549.2,810.4 L550.4,810.8 L551.6,810.3 L552.8,810.5 L554.1,810.2 L555.3,810.5 L556.5,811.3 L557.7,811.5 L558.9,811.2 L560.1,811.5 L561.3,811.6 L562.5,811.1 L563.7,810.9 L564.9,810.9 L566.1,811.6 L567.3,811 L568.5,811.6 L569.7,811.5 L570.9,811.2 L572.1,811.9 L573.4,811.9 L574.6,811.1 L575.8,811.7 L577,811.7 L578.2,811.5 L579.4,811.4 L580.6,812.1 L581.8,811.8 L583,811.6 L584.2,811.6 L585.4,811.4 L586.6,811.6 L587.8,811.1 L589,810.5 L590.2,811.1 L591.4,810.8 L592.7,809.6 L593.9,809.2 L595.1,807.8 L596.3,805.7 L597.5,804.9 L598.7,804.2 L599.9,798.9 L601.1,796.4 L602.3,798.5 L603.5,791.3 L604.7,791.9 L605.9,790.2 L607.1,784.3 L608.3,781.5 L609.5,783.3 L610.7,776.7 L612,775.9 L613.2,770.2 L614.4,764.1 L615.6,768.1 L616.8,756.7 L618,757 L619.2,742.3 L620.4,741.7 L621.6,738.6 L622.8,733.5 L624,736.5 L625.2,719.1 L626.4,711.7 L627.6,710.8 L628.8,692.7 L630,694.5 L631.3,683.1 L632.5,682.6 L633.7,680.6 L634.9,688.8 L636.1,664 L637.3,659.3 L638.5,660 L639.7,684.9 L640.9,666.6 L642.1,693.2 L643.3,681.7 L644.5,697 L645.7,676.4 L646.9,652.8 L648.1,682.3 L649.3,669 L650.6,645.7 L651.8,651.2 L653,650.7 L654.2,657 L655.4,657.1 L656.6,668 L657.8,650.7 L659,639.6 L660.2,629.7 L661.4,590.3 L662.6,647.7 L663.8,655.4 L665,649.5 L666.2,652.3 L667.4,668 L668.6,690.9 L669.9,710 L671.1,741.5 L672.3,715.4 L673.5,680.6 L674.7,684.6 L675.9,668.8 L677.1,680.4 L678.3,667.4 L679.5,689 L680.7,730.2 L681.9,744.4 L683.1,716.6 L684.3,689 L685.5,690.8 L686.7,672.2 L687.9,669.8 L689.1,694.5 L690.4,703.3 L691.6,705.8 L692.8,715.8 L694,718.6 L695.2,726.8 L696.4,728.3 L697.6,746.1 L698.8,744.3 L700,759 L701.2,768.5 L702.4,769.2 L703.6,774.7 L704.8,777.5 L706,772.6 L707.2,779.3 L708.4,779.1 L709.7,786.4 L710.9,788.3 L712.1,788.3 L713.3,787.8 L714.5,789.6 L715.7,793.8 L716.9,793.2 L718.1,795.1 L719.3,798.4 L720.5,797.9 L721.7,799.8 L722.9,799 L724.1,799.7 L725.3,802.1 L726.5,802.7 L727.7,802.6 L729,801.5 L730.2,804.3 L731.4,801.4 L732.6,801 L733.8,800.8 L735,802.9 L736.2,802.2 L737.4,802.4" fill="none" stroke="#4472C4" stroke-width="3.6" stroke-linejoin="round" stroke-linecap="round"/>
<path d="M76.4,815 L77.6,815 L78.8,815 L80,815 L81.2,815 L82.4,815 L83.6,815 L84.8,815 L86.1,815 L87.3,815 L88.5,815 L89.7,815 L90.9,815 L92.1,815 L93.3,815 L94.5,794.8 L95.7,815 L96.9,815 L98.1,815 L99.3,815 L100.5,815 L101.7,815 L102.9,815 L104.1,815 L105.4,815 L106.6,815 L107.8,815 L109,815 L110.2,815 L111.4,815 L112.6,815 L113.8,815 L115,815 L116.2,815 L117.4,815 L118.6,815 L119.8,815 L121,815 L122.2,815 L123.4,815 L124.7,815 L125.9,815 L127.1,815 L128.3,815 L129.5,815 L130.7,815 L131.9,815 L133.1,815 L134.3,815 L135.5,815 L136.7,815 L137.9,815 L139.1,815 L140.3,815 L141.5,815 L142.7,815 L143.9,815 L145.2,815 L146.4,815 L147.6,815 L148.8,815 L150,815 L151.2,815 L152.4,815 L153.6,815 L154.8,815 L156,815 L157.2,815 L158.4,815 L159.6,815 L160.8,815 L162,815 L163.2,815 L164.5,815 L165.7,815 L166.9,815 L168.1,815 L169.3,815 L170.5,815 L171.7,815 L172.9,815 L174.1,815 L175.3,815 L176.5,815 L177.7,815 L178.9,815 L180.1,815 L181.3,815 L182.5,815 L183.8,815 L185,815 L186.2,815 L187.4,815 L188.6,815 L189.8,815 L191,815 L192.2,815 L193.4,815 L194.6,815 L195.8,815 L197,815 L198.2,815 L199.4,815 L200.6,815 L201.8,815 L203.1,802.4 L204.3,802.4 L205.5,815 L206.7,815 L207.9,815 L209.1,815 L210.3,815 L211.5,815 L212.7,815 L213.9,815 L215.1,815 L216.3,815 L217.5,815 L218.7,815 L219.9,815 L221.1,815 L222.4,815 L223.6,815 L224.8,815 L226,815 L227.2,815 L228.4,815 L229.6,815 L230.8,815 L232,815 L233.2,815 L234.4,815 L235.6,815 L236.8,815 L238,815 L239.2,815 L240.4,815 L241.7,815 L242.9,815 L244.1,815 L245.3,815 L246.5,815 L247.7,815 L248.9,815 L250.1,815 L251.3,815 L252.5,815 L253.7,815 L254.9,815 L256.1,815 L257.3,815 L258.5,815 L259.7,802.4 L261,815 L262.2,815 L263.4,815 L264.6,815 L265.8,815 L267,815 L268.2,815 L269.4,815 L270.6,815 L271.8,815 L273,815 L274.2,815 L275.4,815 L276.6,815 L277.8,815 L279,815 L280.2,815 L281.5,815 L282.7,815 L283.9,815 L285.1,815 L286.3,815 L287.5,815 L288.7,815 L289.9,815 L291.1,815 L292.3,815 L293.5,815 L294.7,815 L295.9,815 L297.1,815 L298.3,815 L299.5,815 L300.8,815 L302,815 L303.2,815 L304.4,815 L305.6,815 L306.8,815 L308,815 L309.2,815 L310.4,815 L311.6,815 L312.8,815 L314,815 L315.2,815 L316.4,815 L317.6,815 L318.8,815 L320.1,815 L321.3,815 L322.5,815 L323.7,815 L324.9,815 L326.1,815 L327.3,815 L328.5,815 L329.7,815 L330.9,815 L332.1,815 L333.3,815 L334.5,815 L335.7,815 L336.9,815 L338.1,815 L339.4,815 L340.6,815 L341.8,815 L343,815 L344.2,815 L345.4,815 L346.6,815 L347.8,815 L349,815 L350.2,815 L351.4,815 L352.6,815 L353.8,815 L355,815 L356.2,815 L357.4,815 L358.7,815 L359.9,815 L361.1,815 L362.3,815 L363.5,815 L364.7,815 L365.9,815 L367.1,815 L368.3,815 L369.5,815 L370.7,815 L371.9,815 L373.1,815 L374.3,815 L375.5,815 L376.7,815 L378,815 L379.2,815 L380.4,815 L381.6,815 L382.8,815 L384,815 L385.2,802.4 L386.4,802.4 L387.6,815 L388.8,815 L390,815 L391.2,815 L392.4,815 L393.6,815 L394.8,815 L396,815 L397.3,815 L398.5,815 L399.7,815 L400.9,815 L402.1,815 L403.3,815 L404.5,815 L405.7,815 L406.9,815 L408.1,815 L409.3,815 L410.5,815 L411.7,815 L412.9,815 L414.1,815 L415.3,815 L416.5,815 L417.8,815 L419,815 L420.2,815 L421.4,815 L422.6,815 L423.8,815 L425,815 L426.2,815 L427.4,815 L428.6,815 L429.8,815 L431,815 L432.2,815 L433.4,815 L434.6,815 L435.8,815 L437.1,815 L438.3,815 L439.5,815 L440.7,815 L441.9,815 L443.1,815 L444.3,815 L445.5,802.4 L446.7,815 L447.9,815 L449.1,815 L450.3,815 L451.5,815 L452.7,815 L453.9,815 L455.1,815 L456.4,815 L457.6,815 L458.8,815 L460,815 L461.2,815 L462.4,815 L463.6,815 L464.8,815 L466,815 L467.2,815 L468.4,802.4 L469.6,815 L470.8,815 L472,815 L473.2,815 L474.4,815 L475.7,815 L476.9,815 L478.1,815 L479.3,802.4 L480.5,815 L481.7,815 L482.9,815 L484.1,815 L485.3,815 L486.5,815 L487.7,815 L488.9,815 L490.1,815 L491.3,802.4 L492.5,815 L493.7,815 L495,815 L496.2,815 L497.4,815 L498.6,815 L499.8,815 L501,815 L502.2,815 L503.4,815 L504.6,815 L505.8,815 L507,802.4 L508.2,815 L509.4,815 L510.6,802.4 L511.8,815 L513,815 L514.3,802.4 L515.5,815 L516.7,815 L517.9,815 L519.1,815 L520.3,815 L521.5,815 L522.7,815 L523.9,815 L525.1,815 L526.3,815 L527.5,815 L528.7,815 L529.9,815 L531.1,815 L532.3,815 L533.6,815 L534.8,815 L536,815 L537.2,815 L538.4,815 L539.6,815 L540.8,815 L542,815 L543.2,815 L544.4,815 L545.6,815 L546.8,802.4 L548,815 L549.2,815 L550.4,815 L551.6,815 L552.8,815 L554.1,815 L555.3,815 L556.5,815 L557.7,802.4 L558.9,815 L560.1,815 L561.3,815 L562.5,815 L563.7,815 L564.9,802.4 L566.1,815 L567.3,815 L568.5,802.4 L569.7,815 L570.9,815 L572.1,789.8 L573.4,815 L574.6,815 L575.8,802.4 L577,815 L578.2,815 L579.4,789.8 L580.6,815 L581.8,802.4 L583,815 L584.2,777.2 L585.4,815 L586.6,789.8 L587.8,815 L589,789.8 L590.2,815 L591.4,815 L592.7,802.4 L593.9,815 L595.1,815 L596.3,815 L597.5,815 L598.7,802.4 L599.9,815 L601.1,815 L602.3,815 L603.5,802.4 L604.7,815 L605.9,815 L607.1,802.4 L608.3,815 L609.5,815 L610.7,802.4 L612,815 L613.2,802.4 L614.4,802.4 L615.6,802.4 L616.8,764.6 L618,764.6 L619.2,789.8 L620.4,802.4 L621.6,789.8 L622.8,726.8 L624,714.2 L625.2,764.6 L626.4,777.2 L627.6,714.2 L628.8,764.6 L630,752 L631.3,701.6 L632.5,752 L633.7,726.8 L634.9,714.2 L636.1,777.2 L637.3,689 L638.5,764.6 L639.7,739.4 L640.9,726.8 L642.1,726.8 L643.3,689 L644.5,726.8 L645.7,626 L646.9,651.2 L648.1,701.6 L649.3,626 L650.6,638.6 L651.8,701.6 L653,588.2 L654.2,739.4 L655.4,663.8 L656.6,714.2 L657.8,663.8 L659,714.2 L660.2,701.6 L661.4,663.8 L662.6,613.4 L663.8,613.4 L665,613.4 L666.2,626 L667.4,726.8 L668.6,600.8 L669.9,689 L671.1,701.6 L672.3,600.8 L673.5,701.6 L674.7,714.2 L675.9,638.6 L677.1,638.6 L678.3,714.2 L679.5,600.8 L680.7,714.2 L681.9,613.4 L683.1,588.2 L684.3,626 L685.5,588.2 L686.7,651.2 L687.9,638.6 L689.1,726.8 L690.4,701.6 L691.6,714.2 L692.8,676.4 L694,663.8 L695.2,726.8 L696.4,663.8 L697.6,752 L698.8,752 L700,676.4 L701.2,714.2 L702.4,739.4 L703.6,739.4 L704.8,676.4 L706,752 L707.2,663.8 L708.4,651.2 L709.7,676.4 L710.9,752 L712.1,714.2 L713.3,739.4 L714.5,777.2 L715.7,752 L716.9,752 L718.1,739.4 L719.3,739.4 L720.5,777.2 L721.7,764.6 L722.9,777.2 L724.1,777.2 L725.3,802.4 L726.5,777.2 L727.7,777.2 L729,789.8 L730.2,802.4 L731.4,777.2 L732.6,802.4 L733.8,815 L735,802.4 L736.2,789.8 L737.4,815" fill="none" stroke="#FF0000" stroke-width="2.3" stroke-dasharray="2.7 3.1" stroke-linejoin="round"/>
<path d="M76.4,764.6 L77.6,752 L78.8,739.4 L80,789.8 L81.2,777.2 L82.4,777.2 L83.6,739.4 L84.8,764.6 L86.1,789.8 L87.3,764.6 L88.5,789.8 L89.7,789.8 L90.9,777.2 L92.1,777.2 L93.3,739.4 L94.5,739.4 L95.7,764.6 L96.9,777.2 L98.1,789.8 L99.3,777.2 L100.5,764.6 L101.7,789.8 L102.9,752 L104.1,752 L105.4,689 L106.6,764.6 L107.8,739.4 L109,777.2 L110.2,752 L111.4,777.2 L112.6,777.2 L113.8,789.8 L115,752 L116.2,777.2 L117.4,789.8 L118.6,752 L119.8,764.6 L121,777.2 L122.2,789.8 L123.4,789.8 L124.7,764.6 L125.9,764.6 L127.1,777.2 L128.3,739.4 L129.5,789.8 L130.7,789.8 L131.9,789.8 L133.1,777.2 L134.3,777.2 L135.5,752 L136.7,789.8 L137.9,739.4 L139.1,714.2 L140.3,752 L141.5,764.6 L142.7,777.2 L143.9,789.8 L145.2,752 L146.4,739.4 L147.6,777.2 L148.8,777.2 L150,789.8 L151.2,764.6 L152.4,752 L153.6,701.6 L154.8,739.4 L156,789.8 L157.2,789.8 L158.4,777.2 L159.6,789.8 L160.8,764.6 L162,726.8 L163.2,739.4 L164.5,789.8 L165.7,789.8 L166.9,752 L168.1,764.6 L169.3,752 L170.5,789.8 L171.7,739.4 L172.9,789.8 L174.1,789.8 L175.3,739.4 L176.5,764.6 L177.7,739.4 L178.9,714.2 L180.1,739.4 L181.3,777.2 L182.5,777.2 L183.8,789.8 L185,764.6 L186.2,752 L187.4,726.8 L188.6,764.6 L189.8,789.8 L191,777.2 L192.2,752 L193.4,764.6 L194.6,726.8 L195.8,739.4 L197,764.6 L198.2,789.8 L199.4,789.8 L200.6,739.4 L201.8,777.2 L203.1,739.4 L204.3,752 L205.5,777.2 L206.7,789.8 L207.9,789.8 L209.1,789.8 L210.3,789.8 L211.5,752 L212.7,764.6 L213.9,789.8 L215.1,789.8 L216.3,789.8 L217.5,777.2 L218.7,752 L219.9,789.8 L221.1,764.6 L222.4,752 L223.6,789.8 L224.8,789.8 L226,752 L227.2,752 L228.4,752 L229.6,752 L230.8,789.8 L232,739.4 L233.2,789.8 L234.4,789.8 L235.6,789.8 L236.8,764.6 L238,764.6 L239.2,752 L240.4,777.2 L241.7,789.8 L242.9,777.2 L244.1,764.6 L245.3,739.4 L246.5,726.8 L247.7,739.4 L248.9,777.2 L250.1,789.8 L251.3,777.2 L252.5,777.2 L253.7,777.2 L254.9,777.2 L256.1,777.2 L257.3,777.2 L258.5,789.8 L259.7,777.2 L261,764.6 L262.2,789.8 L263.4,764.6 L264.6,789.8 L265.8,789.8 L267,789.8 L268.2,789.8 L269.4,789.8 L270.6,752 L271.8,739.4 L273,789.8 L274.2,789.8 L275.4,777.2 L276.6,752 L277.8,689 L279,752 L280.2,764.6 L281.5,752 L282.7,789.8 L283.9,777.2 L285.1,764.6 L286.3,789.8 L287.5,739.4 L288.7,752 L289.9,777.2 L291.1,777.2 L292.3,777.2 L293.5,739.4 L294.7,726.8 L295.9,739.4 L297.1,777.2 L298.3,789.8 L299.5,789.8 L300.8,777.2 L302,752 L303.2,789.8 L304.4,752 L305.6,752 L306.8,752 L308,752 L309.2,789.8 L310.4,777.2 L311.6,752 L312.8,739.4 L314,752 L315.2,764.6 L316.4,789.8 L317.6,789.8 L318.8,789.8 L320.1,752 L321.3,752 L322.5,739.4 L323.7,764.6 L324.9,789.8 L326.1,789.8 L327.3,777.2 L328.5,752 L329.7,764.6 L330.9,777.2 L332.1,777.2 L333.3,777.2 L334.5,789.8 L335.7,739.4 L336.9,689 L338.1,752 L339.4,752 L340.6,752 L341.8,777.2 L343,789.8 L344.2,752 L345.4,739.4 L346.6,764.6 L347.8,752 L349,764.6 L350.2,777.2 L351.4,777.2 L352.6,789.8 L353.8,777.2 L355,789.8 L356.2,789.8 L357.4,789.8 L358.7,777.2 L359.9,777.2 L361.1,789.8 L362.3,789.8 L363.5,777.2 L364.7,789.8 L365.9,789.8 L367.1,777.2 L368.3,777.2 L369.5,802.4 L370.7,777.2 L371.9,789.8 L373.1,789.8 L374.3,752 L375.5,777.2 L376.7,777.2 L378,777.2 L379.2,764.6 L380.4,777.2 L381.6,789.8 L382.8,777.2 L384,789.8 L385.2,777.2 L386.4,764.6 L387.6,777.2 L388.8,764.6 L390,764.6 L391.2,789.8 L392.4,789.8 L393.6,789.8 L394.8,777.2 L396,789.8 L397.3,789.8 L398.5,789.8 L399.7,777.2 L400.9,789.8 L402.1,789.8 L403.3,789.8 L404.5,764.6 L405.7,764.6 L406.9,777.2 L408.1,752 L409.3,789.8 L410.5,789.8 L411.7,777.2 L412.9,789.8 L414.1,764.6 L415.3,789.8 L416.5,777.2 L417.8,789.8 L419,777.2 L420.2,789.8 L421.4,789.8 L422.6,789.8 L423.8,777.2 L425,777.2 L426.2,789.8 L427.4,777.2 L428.6,789.8 L429.8,764.6 L431,789.8 L432.2,764.6 L433.4,777.2 L434.6,752 L435.8,789.8 L437.1,789.8 L438.3,789.8 L439.5,752 L440.7,777.2 L441.9,752 L443.1,777.2 L444.3,777.2 L445.5,764.6 L446.7,752 L447.9,739.4 L449.1,689 L450.3,752 L451.5,789.8 L452.7,789.8 L453.9,764.6 L455.1,777.2 L456.4,752 L457.6,739.4 L458.8,777.2 L460,739.4 L461.2,626 L462.4,752 L463.6,739.4 L464.8,752 L466,789.8 L467.2,752 L468.4,777.2 L469.6,789.8 L470.8,752 L472,789.8 L473.2,789.8 L474.4,739.4 L475.7,739.4 L476.9,714.2 L478.1,752 L479.3,752 L480.5,726.8 L481.7,752 L482.9,726.8 L484.1,789.8 L485.3,777.2 L486.5,777.2 L487.7,726.8 L488.9,777.2 L490.1,726.8 L491.3,726.8 L492.5,739.4 L493.7,676.4 L495,764.6 L496.2,764.6 L497.4,777.2 L498.6,777.2 L499.8,752 L501,752 L502.2,714.2 L503.4,764.6 L504.6,752 L505.8,777.2 L507,752 L508.2,777.2 L509.4,739.4 L510.6,789.8 L511.8,789.8 L513,739.4 L514.3,701.6 L515.5,764.6 L516.7,764.6 L517.9,726.8 L519.1,789.8 L520.3,789.8 L521.5,726.8 L522.7,739.4 L523.9,764.6 L525.1,789.8 L526.3,764.6 L527.5,714.2 L528.7,764.6 L529.9,752 L531.1,752 L532.3,789.8 L533.6,789.8 L534.8,789.8 L536,777.2 L537.2,789.8 L538.4,726.8 L539.6,789.8 L540.8,739.4 L542,689 L543.2,752 L544.4,789.8 L545.6,789.8 L546.8,739.4 L548,789.8 L549.2,764.6 L550.4,739.4 L551.6,777.2 L552.8,777.2 L554.1,777.2 L555.3,739.4 L556.5,777.2 L557.7,739.4 L558.9,789.8 L560.1,764.6 L561.3,752 L562.5,726.8 L563.7,739.4 L564.9,739.4 L566.1,789.8 L567.3,752 L568.5,739.4 L569.7,789.8 L570.9,789.8 L572.1,764.6 L573.4,714.2 L574.6,739.4 L575.8,777.2 L577,752 L578.2,789.8 L579.4,789.8 L580.6,739.4 L581.8,752 L583,752 L584.2,752 L585.4,789.8 L586.6,789.8 L587.8,752 L589,764.6 L590.2,764.6 L591.4,764.6 L592.7,777.2 L593.9,777.2 L595.1,789.8 L596.3,777.2 L597.5,764.6 L598.7,777.2 L599.9,739.4 L601.1,752 L602.3,789.8 L603.5,789.8 L604.7,802.4 L605.9,789.8 L607.1,789.8 L608.3,789.8 L609.5,789.8 L610.7,789.8 L612,802.4 L613.2,802.4 L614.4,802.4 L615.6,802.4 L616.8,789.8 L618,789.8 L619.2,789.8 L620.4,789.8 L621.6,802.4 L622.8,802.4 L624,789.8 L625.2,777.2 L626.4,777.2 L627.6,789.8 L628.8,789.8 L630,802.4 L631.3,802.4 L632.5,789.8 L633.7,789.8 L634.9,802.4 L636.1,789.8 L637.3,802.4 L638.5,802.4 L639.7,777.2 L640.9,802.4 L642.1,777.2 L643.3,789.8 L644.5,789.8 L645.7,789.8 L646.9,789.8 L648.1,789.8 L649.3,789.8 L650.6,789.8 L651.8,802.4 L653,802.4 L654.2,777.2 L655.4,789.8 L656.6,777.2 L657.8,789.8 L659,789.8 L660.2,789.8 L661.4,802.4 L662.6,802.4 L663.8,802.4 L665,802.4 L666.2,802.4 L667.4,802.4 L668.6,777.2 L669.9,789.8 L671.1,764.6 L672.3,802.4 L673.5,777.2 L674.7,789.8 L675.9,789.8 L677.1,802.4 L678.3,789.8 L679.5,802.4 L680.7,802.4 L681.9,789.8 L683.1,789.8 L684.3,802.4 L685.5,789.8 L686.7,777.2 L687.9,802.4 L689.1,802.4 L690.4,802.4 L691.6,802.4 L692.8,789.8 L694,789.8 L695.2,773.4 L696.4,789.8 L697.6,789.8 L698.8,789.8 L700,802.4 L701.2,789.8 L702.4,777.2 L703.6,789.8 L704.8,802.4 L706,789.8 L707.2,802.4 L708.4,789.8 L709.7,789.8 L710.9,789.8 L712.1,802.4 L713.3,769.6 L714.5,802.4 L715.7,777.2 L716.9,777.2 L718.1,802.4 L719.3,789.8 L720.5,789.8 L721.7,802.4 L722.9,789.8 L724.1,789.8 L725.3,789.8 L726.5,777.2 L727.7,815 L729,802.4 L730.2,802.4 L731.4,802.4 L732.6,802.4 L733.8,802.4 L735,802.4 L736.2,802.4 L737.4,815" fill="none" stroke="#A5A5A5" stroke-width="3.6" stroke-dasharray="10 3.6" stroke-linejoin="round"/>
</g>
<g id="c4">
<path d="M946,816 H1654" stroke="#D9D9D9" stroke-width="1" fill="none"/><path d="M946,816 v4 M986,816 v4 M1026,816 v4 M1064.6,816 v4 M1104.6,816 v4 M1143.3,816 v4 M1183.3,816 v4 M1223.3,816 v4 M1259.4,816 v4 M1299.4,816 v4 M1338,816 v4 M1378,816 v4 M1416.7,816 v4 M1456.7,816 v4 M1496.7,816 v4 M1535.4,816 v4 M1575.3,816 v4 M1614,816 v4 M1654,816 v4" stroke="#D9D9D9" stroke-width="1" fill="none"/>
<text x="932" y="820.9" text-anchor="end" font-size="14.5" fill="#222222">0</text>
<text x="932" y="796.4" text-anchor="end" font-size="14.5" fill="#222222">50</text>
<text x="932" y="771.9" text-anchor="end" font-size="14.5" fill="#222222">100</text>
<text x="932" y="747.4" text-anchor="end" font-size="14.5" fill="#222222">150</text>
<text x="932" y="722.9" text-anchor="end" font-size="14.5" fill="#222222">200</text>
<text x="932" y="698.4" text-anchor="end" font-size="14.5" fill="#222222">250</text>
<text x="932" y="673.9" text-anchor="end" font-size="14.5" fill="#222222">300</text>
<text x="932" y="649.4" text-anchor="end" font-size="14.5" fill="#222222">350</text>
<text x="932" y="624.9" text-anchor="end" font-size="14.5" fill="#222222">400</text>
<text x="932" y="600.4" text-anchor="end" font-size="14.5" fill="#222222">450</text>
<text x="949" y="835.7" transform="rotate(-45 949 835.7)" text-anchor="end" font-size="15.5" fill="#222222">2020-07-01</text>
<text x="989" y="835.7" transform="rotate(-45 989 835.7)" text-anchor="end" font-size="15.5" fill="#222222">2020-08-01</text>
<text x="1029" y="835.7" transform="rotate(-45 1029 835.7)" text-anchor="end" font-size="15.5" fill="#222222">2020-09-01</text>
<text x="1067.6" y="835.7" transform="rotate(-45 1067.6 835.7)" text-anchor="end" font-size="15.5" fill="#222222">2020-10-01</text>
<text x="1107.6" y="835.7" transform="rotate(-45 1107.6 835.7)" text-anchor="end" font-size="15.5" fill="#222222">2020-11-01</text>
<text x="1146.3" y="835.7" transform="rotate(-45 1146.3 835.7)" text-anchor="end" font-size="15.5" fill="#222222">2020-12-01</text>
<text x="1186.3" y="835.7" transform="rotate(-45 1186.3 835.7)" text-anchor="end" font-size="15.5" fill="#222222">2021-01-01</text>
<text x="1226.3" y="835.7" transform="rotate(-45 1226.3 835.7)" text-anchor="end" font-size="15.5" fill="#222222">2021-02-01</text>
<text x="1262.4" y="835.7" transform="rotate(-45 1262.4 835.7)" text-anchor="end" font-size="15.5" fill="#222222">2021-03-01</text>
<text x="1302.4" y="835.7" transform="rotate(-45 1302.4 835.7)" text-anchor="end" font-size="15.5" fill="#222222">2021-04-01</text>
<text x="1341" y="835.7" transform="rotate(-45 1341 835.7)" text-anchor="end" font-size="15.5" fill="#222222">2021-05-01</text>
<text x="1381" y="835.7" transform="rotate(-45 1381 835.7)" text-anchor="end" font-size="15.5" fill="#222222">2021-06-01</text>
<text x="1419.7" y="835.7" transform="rotate(-45 1419.7 835.7)" text-anchor="end" font-size="15.5" fill="#222222">2021-07-01</text>
<text x="1459.7" y="835.7" transform="rotate(-45 1459.7 835.7)" text-anchor="end" font-size="15.5" fill="#222222">2021-08-01</text>
<text x="1499.7" y="835.7" transform="rotate(-45 1499.7 835.7)" text-anchor="end" font-size="15.5" fill="#222222">2021-09-01</text>
<text x="1538.4" y="835.7" transform="rotate(-45 1538.4 835.7)" text-anchor="end" font-size="15.5" fill="#222222">2021-10-01</text>
<text x="1578.3" y="835.7" transform="rotate(-45 1578.3 835.7)" text-anchor="end" font-size="15.5" fill="#222222">2021-11-01</text>
<text x="1617" y="835.7" transform="rotate(-45 1617 835.7)" text-anchor="end" font-size="15.5" fill="#222222">2021-12-01</text>
<text x="1263.5" y="474.8" text-anchor="middle" font-size="20.4" font-weight="bold" fill="#050505" class="t">Twitter Indicators</text>
<path d="M964,510 H1005" stroke="#7030A0" stroke-width="3" fill="none"/>
<text x="1008.5" y="516" font-size="17.8" fill="#222222">Twitter Fear Count</text>
<path d="M964,539.5 H1005" stroke="#1F86DC" stroke-width="3" stroke-dasharray="9.7 4.6" fill="none"/>
<text x="1008.5" y="545.5" font-size="17.8" fill="#222222">Twitter Sadness Count</text>
<path d="M964,568 H993" stroke="#404040" stroke-width="5" fill="none"/>
<text x="1008.5" y="574" font-size="17.8" fill="#222222">Twitter No Specific Emotion Count</text>
<path d="M1280,510 H1321" stroke="#FF0000" stroke-width="3" stroke-dasharray="15.7 9.2" fill="none"/>
<text x="1324.5" y="516" font-size="17.8" fill="#222222">Twitter Anger Count</text>
<path d="M1280,539.5 H1321" stroke="#FFC000" stroke-width="2.8" stroke-dasharray="2.5 2.5" fill="none"/>
<text x="1324.5" y="545.5" font-size="17.8" fill="#222222">Twitter Joy Count</text>
<path d="M946.6,790.5 L947.9,781.4 L949.2,785.7 L950.5,780.7 L951.8,787.6 L953.1,787.1 L954.4,759.6 L955.7,786.4 L957,776.8 L958.3,787 L959.5,780.7 L960.8,790 L962.1,788.3 L963.4,788.5 L964.7,788.1 L966,787 L967.3,792.6 L968.6,785.6 L969.9,790.8 L971.1,781.6 L972.4,788.9 L973.7,787 L975,791.1 L976.3,783.8 L977.6,788.4 L978.9,791.8 L980.2,785.3 L981.5,791.6 L982.8,785.6 L984,791.2 L985.3,791 L986.6,793.5 L987.9,789.4 L989.2,791.3 L990.5,792.2 L991.8,785.9 L993.1,792.2 L994.4,785.7 L995.7,790.2 L996.9,793.9 L998.2,783.7 L999.5,784.6 L1000.8,767 L1002.1,786.1 L1003.4,785.6 L1004.7,793.4 L1006,790.4 L1007.3,793.8 L1008.5,788.1 L1009.8,796.7 L1011.1,790.9 L1012.4,792.5 L1013.7,786.4 L1015,795.3 L1016.3,796.6 L1017.6,791.5 L1018.9,794.2 L1020.2,788 L1021.4,788.2 L1022.7,797.5 L1024,787.7 L1025.3,785.6 L1026.6,791 L1027.9,795.1 L1029.2,794.8 L1030.5,792.2 L1031.8,793.5 L1033,790.5 L1034.3,794.6 L1035.6,794.7 L1036.9,789 L1038.2,797.4 L1039.5,794.5 L1040.8,798.2 L1042.1,786.7 L1043.4,788 L1044.7,797.5 L1045.9,788.9 L1047.2,798.2 L1048.5,791.5 L1049.8,793.9 L1051.1,794.3 L1052.4,797.4 L1053.7,788.5 L1055,798 L1056.3,795.9 L1057.6,794.5 L1058.8,794.2 L1060.1,794 L1061.4,795.9 L1062.7,788.9 L1064,798.3 L1065.3,798.4 L1066.6,791.3 L1067.9,794.2 L1069.2,795.5 L1070.4,789.8 L1071.7,796.2 L1073,795.2 L1074.3,796.8 L1075.6,789.5 L1076.9,795.4 L1078.2,796.5 L1079.5,797.3 L1080.8,790 L1082.1,798.4 L1083.3,790.4 L1084.6,797.2 L1085.9,789.6 L1087.2,794.8 L1088.5,790.1 L1089.8,798.6 L1091.1,794.9 L1092.4,789.1 L1093.7,795.2 L1095,797 L1096.2,796 L1097.5,787.9 L1098.8,795.2 L1100.1,798.2 L1101.4,791.8 L1102.7,797.9 L1104,796.8 L1105.3,797.4 L1106.6,791.5 L1107.8,795 L1109.1,793.2 L1110.4,795.6 L1111.7,795.7 L1113,797.8 L1114.3,793 L1115.6,797.1 L1116.9,790.3 L1118.2,796.2 L1119.5,796.6 L1120.7,798.1 L1122,793 L1123.3,798.7 L1124.6,794.7 L1125.9,798.5 L1127.2,796.3 L1128.5,793.7 L1129.8,796.4 L1131.1,789 L1132.3,797 L1133.6,795.3 L1134.9,796 L1136.2,799.7 L1137.5,795.8 L1138.8,798.7 L1140.1,800 L1141.4,792.8 L1142.7,796.2 L1144,796.2 L1145.2,790 L1146.5,799.1 L1147.8,793 L1149.1,798.5 L1150.4,791.7 L1151.7,798.5 L1153,796.2 L1154.3,794.1 L1155.6,796.1 L1156.9,797.2 L1158.1,790.4 L1159.4,800.3 L1160.7,796.7 L1162,792.2 L1163.3,798.4 L1164.6,793.5 L1165.9,799.6 L1167.2,795.3 L1168.5,796.2 L1169.7,797.4 L1171,800.6 L1172.3,793.3 L1173.6,792.4 L1174.9,798.6 L1176.2,793.1 L1177.5,800.1 L1178.8,797.6 L1180.1,799.6 L1181.4,795.3 L1182.6,799.2 L1183.9,797.3 L1185.2,799.1 L1186.5,796.1 L1187.8,797.1 L1189.1,794 L1190.4,799.8 L1191.7,795.7 L1193,800.7 L1194.3,796 L1195.5,797.5 L1196.8,790.8 L1198.1,798.2 L1199.4,791.6 L1200.7,800.2 L1202,792.2 L1203.3,800.1 L1204.6,792.2 L1205.9,800.4 L1207.1,799.4 L1208.4,796.9 L1209.7,799.5 L1211,798.7 L1212.3,795.6 L1213.6,797.5 L1214.9,793.6 L1216.2,800 L1217.5,791.4 L1218.8,797.4 L1220,795.7 L1221.3,797.1 L1222.6,798.8 L1223.9,800.6 L1225.2,791.5 L1226.5,798.7 L1227.8,797.7 L1229.1,798 L1230.4,795.8 L1231.7,791.2 L1232.9,793.5 L1234.2,801 L1235.5,800.4 L1236.8,797.3 L1238.1,791.4 L1239.4,799.2 L1240.7,797.4 L1242,791.3 L1243.3,797.7 L1244.5,797.3 L1245.8,800.1 L1247.1,799.2 L1248.4,797.6 L1249.7,794 L1251,799.6 L1252.3,794.6 L1253.6,794.7 L1254.9,800.6 L1256.2,793.3 L1257.4,801.3 L1258.7,797.7 L1260,795.2 L1261.3,791.7 L1262.6,798.1 L1263.9,798.7 L1265.2,798 L1266.5,791.7 L1267.8,798.9 L1269,798.1 L1270.3,799.1 L1271.6,793.3 L1272.9,800.7 L1274.2,795.3 L1275.5,795.5 L1276.8,797.8 L1278.1,790.8 L1279.4,797.1 L1280.7,792.1 L1281.9,796.2 L1283.2,787.9 L1284.5,793.9 L1285.8,792.2 L1287.1,789.9 L1288.4,790.6 L1289.7,788.6 L1291,787.6 L1292.3,789.8 L1293.6,784.7 L1294.8,790.8 L1296.1,779.7 L1297.4,784 L1298.7,779.3 L1300,784.2 L1301.3,770.5 L1302.6,780.3 L1303.9,775.1 L1305.2,784.6 L1306.4,778.8 L1307.7,783.2 L1309,777.7 L1310.3,777 L1311.6,778.5 L1312.9,772.4 L1314.2,763 L1315.5,778.4 L1316.8,764.3 L1318.1,775.7 L1319.3,774 L1320.6,768 L1321.9,771.4 L1323.2,772.2 L1324.5,772.7 L1325.8,768.2 L1327.1,772.3 L1328.4,759.9 L1329.7,771.7 L1331,765.1 L1332.2,762 L1333.5,765 L1334.8,759.9 L1336.1,731.7 L1337.4,755 L1338.7,744.2 L1340,753.4 L1341.3,741.6 L1342.6,766.5 L1343.8,766.2 L1345.1,767.9 L1346.4,760.8 L1347.7,764.3 L1349,746.7 L1350.3,748.7 L1351.6,762.4 L1352.9,756.7 L1354.2,762.4 L1355.5,749.9 L1356.7,755.5 L1358,734.7 L1359.3,756.1 L1360.6,741.9 L1361.9,759.8 L1363.2,741.7 L1364.5,759.4 L1365.8,760.2 L1367.1,751 L1368.3,761.5 L1369.6,764.7 L1370.9,740 L1372.2,752.3 L1373.5,761.4 L1374.8,764.8 L1376.1,766.4 L1377.4,768.5 L1378.7,756.6 L1380,770.9 L1381.2,764 L1382.5,764.1 L1383.8,772.7 L1385.1,760.3 L1386.4,774.4 L1387.7,759.8 L1389,776 L1390.3,770.4 L1391.6,780.1 L1392.9,764.5 L1394.1,774.8 L1395.4,771.9 L1396.7,775 L1398,775.6 L1399.3,773.6 L1400.6,762 L1401.9,782.6 L1403.2,770.2 L1404.5,775.7 L1405.7,773.5 L1407,781.2 L1408.3,767 L1409.6,776.7 L1410.9,781.1 L1412.2,767.8 L1413.5,783.9 L1414.8,774.2 L1416.1,783.4 L1417.4,774 L1418.6,780.8 L1419.9,781.7 L1421.2,772.5 L1422.5,780.2 L1423.8,768.8 L1425.1,780.1 L1426.4,775.3 L1427.7,779.1 L1429,606.3 L1430.3,669 L1431.5,767.6 L1432.8,758 L1434.1,778 L1435.4,773.3 L1436.7,774.8 L1438,764.8 L1439.3,771.5 L1440.6,764.1 L1441.9,760.2 L1443.1,751.1 L1444.4,722.9 L1445.7,749.1 L1447,730.4 L1448.3,753.4 L1449.6,738.1 L1450.9,756.7 L1452.2,765.2 L1453.5,754.7 L1454.8,752.3 L1456,735.7 L1457.3,735.3 L1458.6,746.5 L1459.9,722.9 L1461.2,743.9 L1462.5,743.9 L1463.8,751.4 L1465.1,746.8 L1466.4,757.1 L1467.7,753.1 L1468.9,765.1 L1470.2,742.5 L1471.5,753.2 L1472.8,732.7 L1474.1,753.6 L1475.4,752.1 L1476.7,758.3 L1478,759.9 L1479.3,762.6 L1480.5,748.8 L1481.8,770.2 L1483.1,753.8 L1484.4,774.8 L1485.7,764.7 L1487,763.9 L1488.3,776.4 L1489.6,776.1 L1490.9,771.3 L1492.2,760.9 L1493.4,776.2 L1494.7,779.6 L1496,768.5 L1497.3,774.2 L1498.6,756.6 L1499.9,764.5 L1501.2,742.7 L1502.5,755.8 L1503.8,754.2 L1505,751.4 L1506.3,736.6 L1507.6,725.4 L1508.9,745.8 L1510.2,737 L1511.5,760 L1512.8,749.3 L1514.1,764.8 L1515.4,749.3 L1516.7,761.5 L1517.9,748.4 L1519.2,754.6 L1520.5,758.8 L1521.8,756.7 L1523.1,758.7 L1524.4,740 L1525.7,761.3 L1527,751.4 L1528.3,769.7 L1529.6,752.7 L1530.8,769.7 L1532.1,756.6 L1533.4,776.5 L1534.7,767.6 L1536,773.9 L1537.3,768.7 L1538.6,771.5 L1539.9,751.9 L1541.2,769.2 L1542.4,752.4 L1543.7,764.7 L1545,742.5 L1546.3,759.6 L1547.6,753.8 L1548.9,766 L1550.2,765.8 L1551.5,769.4 L1552.8,751 L1554.1,769.7 L1555.3,755.4 L1556.6,775.3 L1557.9,766.4 L1559.2,773 L1560.5,757.9 L1561.8,769.9 L1563.1,776.8 L1564.4,770.1 L1565.7,768.4 L1567,769 L1568.2,770.4 L1569.5,774.8 L1570.8,763.1 L1572.1,759.4 L1573.4,772.8 L1574.7,760.7 L1576,768.9 L1577.3,765.1 L1578.6,748.4 L1579.8,773 L1581.1,752.8 L1582.4,774.4 L1583.7,763.3 L1585,772.7 L1586.3,763.5 L1587.6,770.4 L1588.9,761.4 L1590.2,773.2 L1591.5,774.4 L1592.7,770.2 L1594,778.1 L1595.3,776 L1596.6,777.3 L1597.9,774.7 L1599.2,773.5 L1600.5,760.2 L1601.8,776.8 L1603.1,778.5 L1604.3,760.7 L1605.6,756.8 L1606.9,753.8 L1608.2,770.2 L1609.5,774.3 L1610.8,779.3 L1612.1,762.1 L1613.4,788.5 L1614.7,798.3 L1616,801.1 L1617.2,802.3 L1618.5,798.5 L1619.8,805.9 L1621.1,802.5 L1622.4,804.7 L1623.7,804.1 L1625,805.7 L1626.3,802.8 L1627.6,804.6 L1628.9,802.9 L1630.1,795.3 L1631.4,802.1 L1632.7,798.3 L1634,799.4 L1635.3,798.5 L1636.6,798.3 L1637.9,795 L1639.2,792.8 L1640.5,798.4 L1641.7,795.7 L1643,796.5 L1644.3,792.2 L1645.6,796.8 L1646.9,797.9 L1648.2,791.5 L1649.5,798.1 L1650.8,794.1 L1652.1,795.7 L1653.4,795.1" fill="none" stroke="#7030A0" stroke-width="3.4" stroke-linejoin="round" stroke-linecap="round"/>
<path d="M946.6,773.3 L947.9,773.4 L949.2,800 L950.5,800.1 L951.8,775.9 L953.1,779.2 L954.4,781.5 L955.7,793.4 L957,783.8 L958.3,783.9 L959.5,784.8 L960.8,798.6 L962.1,789.8 L963.4,791.1 L964.7,780.6 L966,775 L967.3,775.1 L968.6,786.6 L969.9,789.8 L971.1,795.5 L972.4,800.9 L973.7,800.9 L975,789.5 L976.3,794.2 L977.6,792.3 L978.9,776.4 L980.2,787.9 L981.5,786.9 L982.8,797 L984,801.3 L985.3,794.4 L986.6,800.3 L987.9,789.1 L989.2,777.4 L990.5,784.5 L991.8,799.4 L993.1,778.3 L994.4,781.4 L995.7,783.5 L996.9,778.8 L998.2,783.1 L999.5,782.5 L1000.8,795.2 L1002.1,779.8 L1003.4,780 L1004.7,801 L1006,784.6 L1007.3,785.8 L1008.5,793.1 L1009.8,791.3 L1011.1,792.6 L1012.4,781.6 L1013.7,792.6 L1015,783.9 L1016.3,796.9 L1017.6,783 L1018.9,782.8 L1020.2,794.5 L1021.4,791.9 L1022.7,783.5 L1024,788.2 L1025.3,794.1 L1026.6,800.8 L1027.9,798 L1029.2,788.1 L1030.5,802 L1031.8,782.3 L1033,799 L1034.3,781.9 L1035.6,797.6 L1036.9,781.4 L1038.2,786.5 L1039.5,791.9 L1040.8,791.3 L1042.1,787.4 L1043.4,789 L1044.7,757.2 L1045.9,736.6 L1047.2,742.5 L1048.5,767 L1049.8,790.8 L1051.1,804.1 L1052.4,785.2 L1053.7,787.3 L1055,782.4 L1056.3,801.1 L1057.6,786 L1058.8,803.3 L1060.1,788 L1061.4,798.2 L1062.7,799.4 L1064,780.9 L1065.3,767 L1066.6,745 L1067.9,767 L1069.2,800.5 L1070.4,801.8 L1071.7,786.1 L1073,797.8 L1074.3,791.8 L1075.6,806.2 L1076.9,800.4 L1078.2,804.6 L1079.5,793.6 L1080.8,806.2 L1082.1,788.6 L1083.3,806.2 L1084.6,792.3 L1085.9,806.2 L1087.2,802.8 L1088.5,790.5 L1089.8,804.9 L1091.1,804.3 L1092.4,793.2 L1093.7,799.9 L1095,806.2 L1096.2,788.6 L1097.5,805 L1098.8,806.2 L1100.1,800.8 L1101.4,794.8 L1102.7,792 L1104,805.9 L1105.3,801 L1106.6,806.2 L1107.8,798.5 L1109.1,791.5 L1110.4,792.1 L1111.7,788.6 L1113,791.8 L1114.3,789.4 L1115.6,792.9 L1116.9,798 L1118.2,803.4 L1119.5,793.8 L1120.7,801.4 L1122,806.1 L1123.3,798.5 L1124.6,789.1 L1125.9,805.6 L1127.2,795.5 L1128.5,799.7 L1129.8,797.1 L1131.1,805.2 L1132.3,788.6 L1133.6,802.7 L1134.9,795 L1136.2,799.1 L1137.5,806.2 L1138.8,796.1 L1140.1,805.3 L1141.4,806.2 L1142.7,806.2 L1144,804.8 L1145.2,806.2 L1146.5,794.4 L1147.8,797.2 L1149.1,788.6 L1150.4,788.6 L1151.7,788.6 L1153,803.3 L1154.3,798.6 L1155.6,802.9 L1156.9,795.4 L1158.1,794.6 L1159.4,790.8 L1160.7,792.8 L1162,802.7 L1163.3,799.1 L1164.6,796.8 L1165.9,806.2 L1167.2,806.2 L1168.5,799.4 L1169.7,805.9 L1171,792.5 L1172.3,803.1 L1173.6,806.2 L1174.9,804.4 L1176.2,803.3 L1177.5,803.6 L1178.8,796.9 L1180.1,798.2 L1181.4,801.6 L1182.6,794.3 L1183.9,803.7 L1185.2,788.6 L1186.5,788.6 L1187.8,792.3 L1189.1,798.8 L1190.4,797.1 L1191.7,795.6 L1193,806.2 L1194.3,799.2 L1195.5,796.8 L1196.8,804.4 L1198.1,806.2 L1199.4,790.7 L1200.7,800.3 L1202,797 L1203.3,788.6 L1204.6,794.9 L1205.9,802 L1207.1,788.6 L1208.4,800.2 L1209.7,806.2 L1211,793.3 L1212.3,806.2 L1213.6,801.6 L1214.9,789.9 L1216.2,793.6 L1217.5,806.2 L1218.8,798.4 L1220,799.3 L1221.3,797.7 L1222.6,803.8 L1223.9,795.4 L1225.2,806.2 L1226.5,802.1 L1227.8,800.2 L1229.1,788.6 L1230.4,806.2 L1231.7,791.8 L1232.9,804.1 L1234.2,795.8 L1235.5,799.8 L1236.8,798.2 L1238.1,791.8 L1239.4,799.7 L1240.7,805.7 L1242,805.7 L1243.3,806.2 L1244.5,789.7 L1245.8,794.3 L1247.1,788.6 L1248.4,793.1 L1249.7,806.2 L1251,793.9 L1252.3,791.3 L1253.6,792.5 L1254.9,797.4 L1256.2,800.5 L1257.4,798.3 L1258.7,790.8 L1260,802.5 L1261.3,796.8 L1262.6,797.9 L1263.9,788.6 L1265.2,790.7 L1266.5,788.6 L1267.8,790 L1269,801.9 L1270.3,803.2 L1271.6,797.4 L1272.9,802.5 L1274.2,798.6 L1275.5,792.9 L1276.8,787.7 L1278.1,794.7 L1279.4,789.3 L1280.7,805.7 L1281.9,799.7 L1283.2,787 L1284.5,804.3 L1285.8,797.9 L1287.1,805.2 L1288.4,805.1 L1289.7,785.9 L1291,785.6 L1292.3,791.5 L1293.6,804.1 L1294.8,799.8 L1296.1,801.3 L1297.4,790.2 L1298.7,789.7 L1300,795.7 L1301.3,793.3 L1302.6,803.8 L1303.9,792.6 L1305.2,783 L1306.4,786.6 L1307.7,803.7 L1309,792.5 L1310.3,787 L1311.6,799.2 L1312.9,781.8 L1314.2,793.4 L1315.5,786.6 L1316.8,794.6 L1318.1,780.7 L1319.3,783.7 L1320.6,789.4 L1321.9,801.3 L1323.2,792.5 L1324.5,802.1 L1325.8,787.2 L1327.1,778.2 L1328.4,799 L1329.7,788.6 L1331,789.1 L1332.2,791.2 L1333.5,781.1 L1334.8,774.5 L1336.1,780.4 L1337.4,787.6 L1338.7,772.9 L1340,791.7 L1341.3,777.2 L1342.6,779.7 L1343.8,775.7 L1345.1,772 L1346.4,794 L1347.7,779.5 L1349,787.2 L1350.3,777.3 L1351.6,768.4 L1352.9,777.9 L1354.2,797.7 L1355.5,783.8 L1356.7,774.2 L1358,767.3 L1359.3,775.9 L1360.6,770 L1361.9,797.5 L1363.2,767.9 L1364.5,774.7 L1365.8,779.6 L1367.1,769.4 L1368.3,770.5 L1369.6,798.8 L1370.9,774 L1372.2,776.1 L1373.5,796 L1374.8,777.8 L1376.1,783.6 L1377.4,797 L1378.7,777.3 L1380,799.3 L1381.2,784.4 L1382.5,790.4 L1383.8,796.4 L1385.1,787 L1386.4,790.3 L1387.7,798.5 L1389,777.8 L1390.3,801.9 L1391.6,802.1 L1392.9,790.9 L1394.1,781 L1395.4,786.5 L1396.7,784 L1398,791.9 L1399.3,786.9 L1400.6,796.6 L1401.9,798.6 L1403.2,792.4 L1404.5,803.5 L1405.7,803.6 L1407,786.5 L1408.3,802 L1409.6,787.2 L1410.9,786.7 L1412.2,796 L1413.5,788.5 L1414.8,785 L1416.1,782.4 L1417.4,802 L1418.6,801 L1419.9,794.5 L1421.2,791.7 L1422.5,796.3 L1423.8,801.8 L1425.1,787.7 L1426.4,776.8 L1427.7,792.8 L1429,787 L1430.3,791.6 L1431.5,789.3 L1432.8,774.8 L1434.1,793 L1435.4,774.1 L1436.7,774.3 L1438,765 L1439.3,703.3 L1440.6,763.1 L1441.9,676.4 L1443.1,728.1 L1444.4,673.4 L1445.7,707.7 L1447,683.7 L1448.3,748 L1449.6,718 L1450.9,777.8 L1452.2,737.6 L1453.5,777.2 L1454.8,760.5 L1456,747.3 L1457.3,753.3 L1458.6,765.6 L1459.9,783.9 L1461.2,789.6 L1462.5,783.3 L1463.8,792.7 L1465.1,791.8 L1466.4,770.5 L1467.7,798.9 L1468.9,776 L1470.2,791.5 L1471.5,792.8 L1472.8,795 L1474.1,802.2 L1475.4,792.7 L1476.7,800.9 L1478,793.3 L1479.3,797.6 L1480.5,780.8 L1481.8,780.8 L1483.1,793.6 L1484.4,788.2 L1485.7,781.2 L1487,797 L1488.3,803.2 L1489.6,799.5 L1490.9,800.9 L1492.2,787.7 L1493.4,796 L1494.7,796.6 L1496,784.9 L1497.3,800 L1498.6,784.8 L1499.9,789.5 L1501.2,795.8 L1502.5,784.7 L1503.8,797.4 L1505,783.5 L1506.3,783 L1507.6,793.5 L1508.9,788.7 L1510.2,783.4 L1511.5,787.5 L1512.8,787.4 L1514.1,784.5 L1515.4,783.8 L1516.7,787.6 L1517.9,783.9 L1519.2,799.4 L1520.5,791 L1521.8,789.9 L1523.1,797.6 L1524.4,796.9 L1525.7,802.5 L1527,784.3 L1528.3,798.1 L1529.6,795 L1530.8,784.6 L1532.1,802.4 L1533.4,784.6 L1534.7,803.9 L1536,804.6 L1537.3,798.4 L1538.6,798.2 L1539.9,784.9 L1541.2,785.3 L1542.4,788.4 L1543.7,796.5 L1545,793.9 L1546.3,801.4 L1547.6,786.8 L1548.9,797.7 L1550.2,800.3 L1551.5,791.8 L1552.8,803.7 L1554.1,799.7 L1555.3,785.6 L1556.6,805 L1557.9,804 L1559.2,802.5 L1560.5,801.4 L1561.8,797.4 L1563.1,801.5 L1564.4,799.3 L1565.7,801.6 L1567,801.8 L1568.2,793 L1569.5,799.6 L1570.8,798.8 L1572.1,789.4 L1573.4,805.3 L1574.7,804.3 L1576,787.7 L1577.3,797.6 L1578.6,789.5 L1579.8,804.6 L1581.1,795.5 L1582.4,788.1 L1583.7,799.9 L1585,790 L1586.3,793.7 L1587.6,798.7 L1588.9,787.1 L1590.2,798.8 L1591.5,797 L1592.7,793.6 L1594,800.6 L1595.3,788.6 L1596.6,794.2 L1597.9,794.4 L1599.2,795.5 L1600.5,787.2 L1601.8,787.2 L1603.1,788.6 L1604.3,797.4 L1605.6,798.4 L1606.9,795.8 L1608.2,805.6 L1609.5,805.4 L1610.8,787.2 L1612.1,805 L1613.4,787.2 L1614.7,795.2 L1616,794.1 L1617.2,809.9 L1618.5,806.7 L1619.8,799 L1621.1,809.7 L1622.4,809.6 L1623.7,805.7 L1625,808.4 L1626.3,808.8 L1627.6,800.3 L1628.9,809.4 L1630.1,796.4 L1631.4,800.3 L1632.7,809.3 L1634,796 L1635.3,806.8 L1636.6,802.7 L1637.9,801.4 L1639.2,808.4 L1640.5,802.1 L1641.7,808.9 L1643,807.2 L1644.3,795 L1645.6,796.2 L1646.9,801.3 L1648.2,798.5 L1649.5,795 L1650.8,807.8 L1652.1,801.5 L1653.4,807.9" fill="none" stroke="#FF0000" stroke-width="3.2" stroke-dasharray="15 9" stroke-linejoin="round"/>
<path d="M946.6,812.3 L947.9,810.3 L949.2,811.5 L950.5,809.9 L951.8,809.8 L953.1,813.2 L954.4,813.2 L955.7,808.4 L957,812.2 L958.3,812.3 L959.5,808 L960.8,810.8 L962.1,808.5 L963.4,810.8 L964.7,809.7 L966,812.9 L967.3,809.8 L968.6,808.3 L969.9,810.5 L971.1,809.1 L972.4,809.5 L973.7,813.2 L975,809 L976.3,810.1 L977.6,811.9 L978.9,813.2 L980.2,808.3 L981.5,810.8 L982.8,809.2 L984,808.2 L985.3,809.3 L986.6,808.1 L987.9,811.3 L989.2,808.7 L990.5,811 L991.8,808.1 L993.1,808.2 L994.4,813.3 L995.7,813 L996.9,812.5 L998.2,808.1 L999.5,811.1 L1000.8,809.9 L1002.1,812 L1003.4,810.6 L1004.7,811.4 L1006,811.6 L1007.3,810.1 L1008.5,810.2 L1009.8,808.1 L1011.1,809.5 L1012.4,808.1 L1013.7,808.4 L1015,808.1 L1016.3,809.6 L1017.6,812.9 L1018.9,808.4 L1020.2,808.1 L1021.4,808.1 L1022.7,810.3 L1024,809.3 L1025.3,812.6 L1026.6,808.6 L1027.9,810.2 L1029.2,812.1 L1030.5,813.3 L1031.8,808.5 L1033,808.2 L1034.3,813.3 L1035.6,808.8 L1036.9,811.3 L1038.2,813 L1039.5,812.1 L1040.8,809 L1042.1,808.4 L1043.4,813.3 L1044.7,810 L1045.9,813.3 L1047.2,809.4 L1048.5,811.8 L1049.8,808.3 L1051.1,808.2 L1052.4,810.7 L1053.7,808.2 L1055,812 L1056.3,813.3 L1057.6,810.1 L1058.8,813.3 L1060.1,812.7 L1061.4,811.4 L1062.7,810.1 L1064,813 L1065.3,813.3 L1066.6,808.4 L1067.9,812 L1069.2,808.2 L1070.4,808.3 L1071.7,811.6 L1073,811 L1074.3,810.7 L1075.6,809.9 L1076.9,810.2 L1078.2,810.4 L1079.5,810 L1080.8,808.2 L1082.1,810.7 L1083.3,811.2 L1084.6,809.4 L1085.9,812.5 L1087.2,812.1 L1088.5,808.3 L1089.8,810.7 L1091.1,810.5 L1092.4,813.3 L1093.7,811.3 L1095,810.3 L1096.2,813.3 L1097.5,810.1 L1098.8,810 L1100.1,813.4 L1101.4,810 L1102.7,811 L1104,809.7 L1105.3,811.8 L1106.6,809.5 L1107.8,809.3 L1109.1,813.4 L1110.4,813.4 L1111.7,809.7 L1113,808.3 L1114.3,812.4 L1115.6,811.1 L1116.9,810.3 L1118.2,812 L1119.5,811.7 L1120.7,812 L1122,811.7 L1123.3,810.2 L1124.6,812.1 L1125.9,811.6 L1127.2,809.1 L1128.5,813.4 L1129.8,810.4 L1131.1,809.4 L1132.3,812.1 L1133.6,812.6 L1134.9,809 L1136.2,812.5 L1137.5,812.8 L1138.8,811.3 L1140.1,809.6 L1141.4,813.4 L1142.7,812 L1144,811.9 L1145.2,808.8 L1146.5,811.3 L1147.8,808.6 L1149.1,813 L1150.4,811.9 L1151.7,809.9 L1153,808.5 L1154.3,811.2 L1155.6,812.6 L1156.9,813.3 L1158.1,810.7 L1159.4,812.8 L1160.7,809 L1162,808.8 L1163.3,812.9 L1164.6,812.3 L1165.9,809 L1167.2,810 L1168.5,809 L1169.7,811.9 L1171,813.2 L1172.3,812.2 L1173.6,809.1 L1174.9,812.4 L1176.2,811.9 L1177.5,811.4 L1178.8,811.4 L1180.1,811.5 L1181.4,808.4 L1182.6,813.1 L1183.9,813.4 L1185.2,808.4 L1186.5,808.6 L1187.8,808.4 L1189.1,811.3 L1190.4,808.4 L1191.7,808.4 L1193,812.7 L1194.3,809.4 L1195.5,808.8 L1196.8,809.9 L1198.1,810.8 L1199.4,812.3 L1200.7,811.9 L1202,812.7 L1203.3,813.5 L1204.6,810.4 L1205.9,812.3 L1207.1,809 L1208.4,813.5 L1209.7,808.5 L1211,809.8 L1212.3,808.5 L1213.6,808.5 L1214.9,808.5 L1216.2,810.5 L1217.5,813.5 L1218.8,809.5 L1220,813 L1221.3,812.2 L1222.6,810 L1223.9,810.8 L1225.2,811.5 L1226.5,808.5 L1227.8,810.3 L1229.1,812 L1230.4,812.5 L1231.7,808.8 L1232.9,811.1 L1234.2,809.2 L1235.5,811.9 L1236.8,812.9 L1238.1,810.8 L1239.4,809 L1240.7,813 L1242,809.2 L1243.3,808.5 L1244.5,809.1 L1245.8,809 L1247.1,813.5 L1248.4,810.2 L1249.7,808.8 L1251,813.5 L1252.3,812.4 L1253.6,812.5 L1254.9,810.9 L1256.2,811.5 L1257.4,811.2 L1258.7,809.3 L1260,813.5 L1261.3,813.5 L1262.6,813.3 L1263.9,813.4 L1265.2,813.5 L1266.5,808.6 L1267.8,808.9 L1269,813.5 L1270.3,811 L1271.6,812.2 L1272.9,812.2 L1274.2,812 L1275.5,810.2 L1276.8,810.5 L1278.1,811.9 L1279.4,813 L1280.7,812.1 L1281.9,813.4 L1283.2,810.7 L1284.5,809.7 L1285.8,811.8 L1287.1,813.5 L1288.4,813 L1289.7,811.9 L1291,810.4 L1292.3,809.3 L1293.6,811.8 L1294.8,809.2 L1296.1,810.3 L1297.4,811.5 L1298.7,811.9 L1300,811.1 L1301.3,809.8 L1302.6,811.6 L1303.9,809.9 L1305.2,811.3 L1306.4,812.7 L1307.7,810.9 L1309,809.3 L1310.3,812.9 L1311.6,810.2 L1312.9,809.7 L1314.2,805.6 L1315.5,804.8 L1316.8,808.8 L1318.1,803.6 L1319.3,803.9 L1320.6,808.5 L1321.9,806 L1323.2,809.1 L1324.5,801.1 L1325.8,802.2 L1327.1,798.9 L1328.4,799.4 L1329.7,800.3 L1331,798.8 L1332.2,800.4 L1333.5,800.6 L1334.8,781.8 L1336.1,795.5 L1337.4,795.3 L1338.7,788.2 L1340,806 L1341.3,806 L1342.6,806 L1343.8,794.9 L1345.1,804.9 L1346.4,806 L1347.7,795.5 L1349,805.7 L1350.3,795.4 L1351.6,797.9 L1352.9,795.5 L1354.2,794.6 L1355.5,799.2 L1356.7,796.1 L1358,806 L1359.3,796.5 L1360.6,800.2 L1361.9,797.3 L1363.2,805.9 L1364.5,796.8 L1365.8,794.6 L1367.1,806 L1368.3,802.8 L1369.6,799.4 L1370.9,795.7 L1372.2,804 L1373.5,804.9 L1374.8,803.9 L1376.1,798.7 L1377.4,796.7 L1378.7,801.8 L1380,802.7 L1381.2,802.9 L1382.5,804 L1383.8,803.7 L1385.1,808.1 L1386.4,803.8 L1387.7,800 L1389,806 L1390.3,803.1 L1391.6,809.5 L1392.9,804.6 L1394.1,804.3 L1395.4,805.4 L1396.7,807.1 L1398,807.7 L1399.3,806.5 L1400.6,804.7 L1401.9,811.2 L1403.2,811.8 L1404.5,806.9 L1405.7,806 L1407,809.2 L1408.3,810 L1409.6,808.3 L1410.9,812.3 L1412.2,811.7 L1413.5,812.1 L1414.8,809.3 L1416.1,811.1 L1417.4,811.7 L1418.6,808.3 L1419.9,806.7 L1421.2,811 L1422.5,807.9 L1423.8,810 L1425.1,806.7 L1426.4,808.6 L1427.7,810.9 L1429,811.2 L1430.3,812.1 L1431.5,809.1 L1432.8,809.8 L1434.1,811.4 L1435.4,809.8 L1436.7,810.1 L1438,804.7 L1439.3,809.3 L1440.6,799.7 L1441.9,803 L1443.1,800 L1444.4,788.6 L1445.7,796.8 L1447,799 L1448.3,803.9 L1449.6,806.4 L1450.9,804.2 L1452.2,803 L1453.5,807.4 L1454.8,804.4 L1456,802.9 L1457.3,807.1 L1458.6,809.4 L1459.9,809.4 L1461.2,805.1 L1462.5,805.6 L1463.8,803.6 L1465.1,804 L1466.4,809.5 L1467.7,810 L1468.9,809.4 L1470.2,810 L1471.5,805.3 L1472.8,803.9 L1474.1,803.6 L1475.4,809.4 L1476.7,803.9 L1478,808.9 L1479.3,807.9 L1480.5,805.1 L1481.8,810.8 L1483.1,810.8 L1484.4,804.2 L1485.7,809.1 L1487,808.5 L1488.3,806.5 L1489.6,805.6 L1490.9,810.8 L1492.2,808.7 L1493.4,807.8 L1494.7,807.3 L1496,809.8 L1497.3,806.4 L1498.6,803.6 L1499.9,808.2 L1501.2,806.8 L1502.5,810.6 L1503.8,809.2 L1505,805.7 L1506.3,810.7 L1507.6,803.7 L1508.9,803.6 L1510.2,810.8 L1511.5,803.6 L1512.8,808.3 L1514.1,804.7 L1515.4,804.8 L1516.7,809 L1517.9,805.6 L1519.2,805.8 L1520.5,804.4 L1521.8,809.3 L1523.1,804.9 L1524.4,803.6 L1525.7,805.6 L1527,806.9 L1528.3,810.7 L1529.6,807.2 L1530.8,808.5 L1532.1,805.2 L1533.4,805.6 L1534.7,806.6 L1536,810.1 L1537.3,805.9 L1538.6,806 L1539.9,810.1 L1541.2,803.6 L1542.4,805.8 L1543.7,810.6 L1545,803.6 L1546.3,810.4 L1547.6,808.7 L1548.9,805.2 L1550.2,806.3 L1551.5,806.7 L1552.8,805.8 L1554.1,807.6 L1555.3,808.9 L1556.6,810.1 L1557.9,810.8 L1559.2,805.2 L1560.5,804.9 L1561.8,806.8 L1563.1,805 L1564.4,808.5 L1565.7,809.3 L1567,808.2 L1568.2,803.8 L1569.5,810.8 L1570.8,807.1 L1572.1,809.5 L1573.4,804.7 L1574.7,808.5 L1576,808.7 L1577.3,808.1 L1578.6,806.8 L1579.8,804.7 L1581.1,808.5 L1582.4,804 L1583.7,810.7 L1585,809.3 L1586.3,810.8 L1587.6,810.7 L1588.9,804.7 L1590.2,805.1 L1591.5,810 L1592.7,810 L1594,807.9 L1595.3,805 L1596.6,804.3 L1597.9,804.9 L1599.2,806.3 L1600.5,810.4 L1601.8,808.1 L1603.1,810 L1604.3,806.9 L1605.6,806.6 L1606.9,809.9 L1608.2,809.4 L1609.5,804.6 L1610.8,810.8 L1612.1,805.6 L1613.4,806.2 L1614.7,807.4 L1616,811.8 L1617.2,811.8 L1618.5,811.6 L1619.8,811.4 L1621.1,809.9 L1622.4,811.1 L1623.7,813.2 L1625,810.1 L1626.3,812.2 L1627.6,811.5 L1628.9,810.9 L1630.1,814.2 L1631.4,810.6 L1632.7,811.2 L1634,812.1 L1635.3,812 L1636.6,812.3 L1637.9,813.7 L1639.2,811.9 L1640.5,814.2 L1641.7,812.1 L1643,811.3 L1644.3,812.4 L1645.6,811.7 L1646.9,809.9 L1648.2,810 L1649.5,814 L1650.8,810.5 L1652.1,811.4 L1653.4,814.2" fill="none" stroke="#1F7FD6" stroke-width="3.4" stroke-dasharray="10 4" stroke-linejoin="round"/>
<path d="M946.6,774.8 L947.9,766 L949.2,772.3 L950.5,774.6 L951.8,763.8 L953.1,773.8 L954.4,775.7 L955.7,775.1 L957,778.7 L958.3,764.5 L959.5,781.9 L960.8,767.1 L962.1,782 L963.4,769.5 L964.7,776.6 L966,775.9 L967.3,768.1 L968.6,778.9 L969.9,770.8 L971.1,778.9 L972.4,769.8 L973.7,766.4 L975,783.6 L976.3,770.5 L977.6,778 L978.9,785.7 L980.2,778.1 L981.5,784.5 L982.8,783.4 L984,769.3 L985.3,781.8 L986.6,766.7 L987.9,785.5 L989.2,768.5 L990.5,781.1 L991.8,770 L993.1,780.1 L994.4,784 L995.7,786.5 L996.9,784.2 L998.2,768.8 L999.5,788 L1000.8,769 L1002.1,782.7 L1003.4,782.4 L1004.7,786 L1006,784.1 L1007.3,787.9 L1008.5,773.1 L1009.8,785 L1011.1,788.9 L1012.4,786.8 L1013.7,774.7 L1015,771.6 L1016.3,781.5 L1017.6,772.8 L1018.9,783.7 L1020.2,780.3 L1021.4,774.7 L1022.7,771.5 L1024,790.4 L1025.3,788.4 L1026.6,782.8 L1027.9,784.6 L1029.2,784.6 L1030.5,780.2 L1031.8,785.8 L1033,781 L1034.3,786.2 L1035.6,788.1 L1036.9,776.7 L1038.2,774.6 L1039.5,792.5 L1040.8,787.2 L1042.1,792.6 L1043.4,787 L1044.7,787.1 L1045.9,776.3 L1047.2,790.3 L1048.5,774.3 L1049.8,790 L1051.1,775.7 L1052.4,780.2 L1053.7,784.6 L1055,789.1 L1056.3,789.2 L1057.6,787.4 L1058.8,788 L1060.1,785.7 L1061.4,788.3 L1062.7,789.6 L1064,786.9 L1065.3,774.1 L1066.6,734.2 L1067.9,782.5 L1069.2,769.6 L1070.4,784.3 L1071.7,775.5 L1073,790.9 L1074.3,791 L1075.6,793.9 L1076.9,790.2 L1078.2,784.1 L1079.5,788.4 L1080.8,791.4 L1082.1,795.5 L1083.3,790 L1084.6,789.1 L1085.9,788.2 L1087.2,795.9 L1088.5,779.2 L1089.8,791.5 L1091.1,789.7 L1092.4,791.6 L1093.7,790.1 L1095,791.9 L1096.2,793.9 L1097.5,790.9 L1098.8,779.7 L1100.1,789.9 L1101.4,791.1 L1102.7,788.8 L1104,790.9 L1105.3,794 L1106.6,785.5 L1107.8,785.2 L1109.1,795.3 L1110.4,788.1 L1111.7,791.8 L1113,790.9 L1114.3,780.5 L1115.6,767 L1116.9,776.4 L1118.2,794.2 L1119.5,796.2 L1120.7,795.8 L1122,795 L1123.3,787.2 L1124.6,793.7 L1125.9,778.8 L1127.2,768.5 L1128.5,784 L1129.8,787.3 L1131.1,791.1 L1132.3,787.7 L1133.6,792.8 L1134.9,779.4 L1136.2,793 L1137.5,781.2 L1138.8,795.6 L1140.1,792.3 L1141.4,789.1 L1142.7,787.2 L1144,789.3 L1145.2,783.4 L1146.5,794.9 L1147.8,787 L1149.1,796 L1150.4,791.2 L1151.7,788.4 L1153,789.2 L1154.3,789.6 L1155.6,783.9 L1156.9,789.3 L1158.1,770.1 L1159.4,787.4 L1160.7,739.1 L1162,783.7 L1163.3,783.2 L1164.6,785.5 L1165.9,787.6 L1167.2,787.4 L1168.5,788.1 L1169.7,757.7 L1171,785.9 L1172.3,793.9 L1173.6,776.9 L1174.9,789.6 L1176.2,782.1 L1177.5,791.2 L1178.8,781 L1180.1,788.1 L1181.4,760.6 L1182.6,788.4 L1183.9,780.1 L1185.2,792.9 L1186.5,784.4 L1187.8,790.2 L1189.1,791.8 L1190.4,783 L1191.7,793.3 L1193,792.1 L1194.3,792.3 L1195.5,791.9 L1196.8,787.4 L1198.1,795.7 L1199.4,785.8 L1200.7,793.8 L1202,791.3 L1203.3,791.6 L1204.6,792.8 L1205.9,787.8 L1207.1,794.9 L1208.4,781 L1209.7,782.6 L1211,792.8 L1212.3,789.3 L1213.6,795.4 L1214.9,797.1 L1216.2,788 L1217.5,796.7 L1218.8,782.3 L1220,797.5 L1221.3,788.8 L1222.6,792.5 L1223.9,791.3 L1225.2,792.6 L1226.5,792.4 L1227.8,792.7 L1229.1,796.8 L1230.4,780.8 L1231.7,792.1 L1232.9,791.4 L1234.2,792.7 L1235.5,796.4 L1236.8,797.1 L1238.1,780.8 L1239.4,793.7 L1240.7,789.7 L1242,794.5 L1243.3,786.6 L1244.5,796 L1245.8,784.5 L1247.1,795.2 L1248.4,791.9 L1249.7,786.5 L1251,796 L1252.3,784.1 L1253.6,794.1 L1254.9,788.5 L1256.2,797.3 L1257.4,792.8 L1258.7,791.2 L1260,767 L1261.3,790.5 L1262.6,783 L1263.9,794.6 L1265.2,789 L1266.5,794.9 L1267.8,788.7 L1269,790.8 L1270.3,789.4 L1271.6,789.1 L1272.9,774.3 L1274.2,742 L1275.5,785.1 L1276.8,784.9 L1278.1,778.5 L1279.4,785.1 L1280.7,782.2 L1281.9,779.9 L1283.2,785.8 L1284.5,773.3 L1285.8,788.8 L1287.1,787.3 L1288.4,792.4 L1289.7,758.7 L1291,787.9 L1292.3,785.6 L1293.6,789.2 L1294.8,780.2 L1296.1,785 L1297.4,787.5 L1298.7,773 L1300,775.8 L1301.3,789.2 L1302.6,782.4 L1303.9,777.7 L1305.2,783.4 L1306.4,781.7 L1307.7,790.3 L1309,785.9 L1310.3,785.2 L1311.6,782.9 L1312.9,787.8 L1314.2,773 L1315.5,782.4 L1316.8,784.8 L1318.1,788.6 L1319.3,789.2 L1320.6,770.9 L1321.9,788.2 L1323.2,783.1 L1324.5,783.7 L1325.8,783 L1327.1,786.3 L1328.4,779 L1329.7,774.5 L1331,782.9 L1332.2,783.1 L1333.5,783 L1334.8,775.1 L1336.1,738.1 L1337.4,777.5 L1338.7,778.9 L1340,782.9 L1341.3,780.2 L1342.6,774.5 L1343.8,786.4 L1345.1,771.1 L1346.4,779.4 L1347.7,780.9 L1349,779.1 L1350.3,785.2 L1351.6,771 L1352.9,781.3 L1354.2,780.1 L1355.5,764 L1356.7,778.8 L1358,737.6 L1359.3,765.2 L1360.6,777.6 L1361.9,770.6 L1363.2,781.4 L1364.5,777.7 L1365.8,782.9 L1367.1,781.4 L1368.3,777.6 L1369.6,778.3 L1370.9,772.7 L1372.2,778.5 L1373.5,775.2 L1374.8,776.6 L1376.1,757.6 L1377.4,742.8 L1378.7,778.5 L1380,769.3 L1381.2,781.4 L1382.5,767.9 L1383.8,781 L1385.1,769.8 L1386.4,781.9 L1387.7,778.6 L1389,780 L1390.3,780.9 L1391.6,781.9 L1392.9,769.6 L1394.1,783.4 L1395.4,773.7 L1396.7,781.1 L1398,786.5 L1399.3,783.9 L1400.6,769.7 L1401.9,785.5 L1403.2,769.2 L1404.5,768.9 L1405.7,786.8 L1407,775.1 L1408.3,783.7 L1409.6,784.3 L1410.9,777.8 L1412.2,783.2 L1413.5,787.2 L1414.8,782.6 L1416.1,773.2 L1417.4,786.4 L1418.6,770.8 L1419.9,788.6 L1421.2,782.7 L1422.5,778 L1423.8,772.2 L1425.1,783.4 L1426.4,778.4 L1427.7,784.9 L1429,771.4 L1430.3,785.6 L1431.5,777.5 L1432.8,781.8 L1434.1,778.8 L1435.4,772.7 L1436.7,769 L1438,778.4 L1439.3,775.8 L1440.6,779.9 L1441.9,776.6 L1443.1,777.3 L1444.4,770.6 L1445.7,775.8 L1447,768.5 L1448.3,775.1 L1449.6,768.8 L1450.9,775.4 L1452.2,761.2 L1453.5,778.3 L1454.8,763.6 L1456,769.1 L1457.3,761.9 L1458.6,775.5 L1459.9,760.3 L1461.2,776.3 L1462.5,757.2 L1463.8,768.9 L1465.1,771.8 L1466.4,772.7 L1467.7,770.2 L1468.9,771.3 L1470.2,771.8 L1471.5,775.2 L1472.8,778.7 L1474.1,765 L1475.4,773.2 L1476.7,776.1 L1478,770.9 L1479.3,780.9 L1480.5,774.4 L1481.8,778.6 L1483.1,776.4 L1484.4,774.3 L1485.7,770.8 L1487,778.9 L1488.3,771.6 L1489.6,781.4 L1490.9,766.2 L1492.2,777.4 L1493.4,779.8 L1494.7,773.5 L1496,774.4 L1497.3,774.2 L1498.6,774.3 L1499.9,764.4 L1501.2,779.4 L1502.5,772.7 L1503.8,778.9 L1505,779.5 L1506.3,766.3 L1507.6,779.1 L1508.9,772.4 L1510.2,772.3 L1511.5,764.1 L1512.8,772.9 L1514.1,762 L1515.4,779.1 L1516.7,772.8 L1517.9,760.8 L1519.2,774.9 L1520.5,768.9 L1521.8,776.1 L1523.1,771.3 L1524.4,773.4 L1525.7,765.1 L1527,776.1 L1528.3,775.8 L1529.6,766.7 L1530.8,772.3 L1532.1,772.8 L1533.4,770.8 L1534.7,771.5 L1536,769.1 L1537.3,770.1 L1538.6,767.7 L1539.9,757.7 L1541.2,772.5 L1542.4,773 L1543.7,777.3 L1545,748.9 L1546.3,775.6 L1547.6,770.6 L1548.9,771.3 L1550.2,763.6 L1551.5,772.7 L1552.8,762.3 L1554.1,774.4 L1555.3,763.9 L1556.6,778.3 L1557.9,772.6 L1559.2,773.4 L1560.5,774.9 L1561.8,774.5 L1563.1,772.9 L1564.4,778.8 L1565.7,776.3 L1567,780.3 L1568.2,762.6 L1569.5,767 L1570.8,776.4 L1572.1,774.5 L1573.4,780 L1574.7,770.1 L1576,779.5 L1577.3,777.8 L1578.6,776.9 L1579.8,771 L1581.1,779.4 L1582.4,779.8 L1583.7,779.4 L1585,777 L1586.3,779.1 L1587.6,784.8 L1588.9,783.6 L1590.2,777.6 L1591.5,785 L1592.7,783 L1594,771.6 L1595.3,784.2 L1596.6,772.8 L1597.9,776.9 L1599.2,785.4 L1600.5,771.8 L1601.8,780 L1603.1,786.7 L1604.3,782.7 L1605.6,775.1 L1606.9,768.1 L1608.2,785.7 L1609.5,774.8 L1610.8,776.2 L1612.1,787.6 L1613.4,796.7 L1614.7,804.2 L1616,795.9 L1617.2,803 L1618.5,798.5 L1619.8,801.7 L1621.1,800.9 L1622.4,802.5 L1623.7,803 L1625,798.8 L1626.3,804.5 L1627.6,802.5 L1628.9,802.1 L1630.1,800.3 L1631.4,802.5 L1632.7,802.5 L1634,803.4 L1635.3,805.3 L1636.6,802.7 L1637.9,804.8 L1639.2,801.3 L1640.5,804.8 L1641.7,798.2 L1643,802.6 L1644.3,801.9 L1645.6,798.2 L1646.9,803.5 L1648.2,802.8 L1649.5,805.8 L1650.8,803.2 L1652.1,803.9 L1653.4,799.3" fill="none" stroke="#FFC000" stroke-width="2.7" stroke-dasharray="2.6 2.4" stroke-linejoin="round"/>
<path d="M946.6,791.8 L947.9,789.8 L949.2,788.8 L950.5,787 L951.8,789.8 L953.1,787 L954.4,800.9 L955.7,794.5 L957,787 L958.3,791.4 L959.5,787 L960.8,800.7 L962.1,794.5 L963.4,798.3 L964.7,793.2 L966,792.7 L967.3,800.9 L968.6,798.9 L969.9,797.8 L971.1,787 L972.4,789.3 L973.7,799.9 L975,788.8 L976.3,800.2 L977.6,791.9 L978.9,800.4 L980.2,800.9 L981.5,787.5 L982.8,799 L984,798.9 L985.3,787 L986.6,787.5 L987.9,797.6 L989.2,787 L990.5,793.3 L991.8,790.9 L993.1,799.1 L994.4,787 L995.7,790.6 L996.9,787 L998.2,787.1 L999.5,797.6 L1000.8,796.8 L1002.1,800.3 L1003.4,800.8 L1004.7,801.8 L1006,798.7 L1007.3,794 L1008.5,802.3 L1009.8,793.3 L1011.1,798.9 L1012.4,799.6 L1013.7,792 L1015,797.4 L1016.3,800.1 L1017.6,797.9 L1018.9,794.9 L1020.2,803.9 L1021.4,792.6 L1022.7,804.3 L1024,795.3 L1025.3,794.2 L1026.6,804.7 L1027.9,795.4 L1029.2,801.4 L1030.5,798.7 L1031.8,805.2 L1033,805.3 L1034.3,804.4 L1035.6,795.2 L1036.9,804.5 L1038.2,797.5 L1039.5,795.9 L1040.8,796.1 L1042.1,803.2 L1043.4,803.2 L1044.7,801.3 L1045.9,798.4 L1047.2,806.6 L1048.5,799.2 L1049.8,798.8 L1051.1,798 L1052.4,806.8 L1053.7,797.3 L1055,806.7 L1056.3,803.8 L1057.6,800.5 L1058.8,796.9 L1060.1,803.6 L1061.4,796.7 L1062.7,800.9 L1064,803.7 L1065.3,803.6 L1066.6,768.5 L1067.9,795.5 L1069.2,801.9 L1070.4,794.2 L1071.7,791.9 L1073,803.3 L1074.3,804.7 L1075.6,794.5 L1076.9,799.4 L1078.2,801.1 L1079.5,803.3 L1080.8,798.6 L1082.1,795.5 L1083.3,800.4 L1084.6,800.9 L1085.9,805.2 L1087.2,794.5 L1088.5,805.2 L1089.8,799.9 L1091.1,795.3 L1092.4,804.8 L1093.7,796.7 L1095,794.5 L1096.2,798.1 L1097.5,796 L1098.8,805.1 L1100.1,800.7 L1101.4,804.5 L1102.7,795.2 L1104,802.6 L1105.3,800.5 L1106.6,794.5 L1107.8,795.1 L1109.1,794.5 L1110.4,800.5 L1111.7,800 L1113,796.8 L1114.3,800.1 L1115.6,802.6 L1116.9,801.1 L1118.2,804.6 L1119.5,801.5 L1120.7,794.5 L1122,794.5 L1123.3,798.1 L1124.6,799.8 L1125.9,802 L1127.2,805.2 L1128.5,802.9 L1129.8,796.1 L1131.1,794.9 L1132.3,801.7 L1133.6,796 L1134.9,796.2 L1136.2,797.2 L1137.5,797.6 L1138.8,796.4 L1140.1,801.7 L1141.4,797.1 L1142.7,802.8 L1144,800 L1145.2,796.2 L1146.5,797.3 L1147.8,802.6 L1149.1,794.5 L1150.4,797.8 L1151.7,798.8 L1153,805.2 L1154.3,799.2 L1155.6,803.2 L1156.9,797.5 L1158.1,800.3 L1159.4,795.6 L1160.7,797.9 L1162,795.9 L1163.3,801.9 L1164.6,797.9 L1165.9,796.7 L1167.2,796 L1168.5,802.7 L1169.7,797.1 L1171,797.3 L1172.3,800.1 L1173.6,797.6 L1174.9,797.6 L1176.2,802.1 L1177.5,801.9 L1178.8,806.2 L1180.1,798.3 L1181.4,797.6 L1182.6,802.5 L1183.9,800 L1185.2,799.7 L1186.5,799.6 L1187.8,806.1 L1189.1,799 L1190.4,801.3 L1191.7,800.3 L1193,803.2 L1194.3,800.8 L1195.5,799.1 L1196.8,800.7 L1198.1,799.7 L1199.4,807 L1200.7,806.3 L1202,803 L1203.3,800.5 L1204.6,805.6 L1205.9,800.1 L1207.1,800.7 L1208.4,807 L1209.7,802.6 L1211,805.5 L1212.3,807 L1213.6,806.6 L1214.9,804.4 L1216.2,806 L1217.5,805.9 L1218.8,807 L1220,802.7 L1221.3,803.7 L1222.6,801 L1223.9,801.2 L1225.2,805.4 L1226.5,797.6 L1227.8,807 L1229.1,803.4 L1230.4,804.9 L1231.7,803.3 L1232.9,806.8 L1234.2,798.4 L1235.5,803.8 L1236.8,807 L1238.1,801 L1239.4,807 L1240.7,801.8 L1242,804.2 L1243.3,801.3 L1244.5,797.6 L1245.8,798.5 L1247.1,803.2 L1248.4,798.6 L1249.7,800.6 L1251,803.8 L1252.3,806.5 L1253.6,801.2 L1254.9,801.5 L1256.2,797.6 L1257.4,797.6 L1258.7,801 L1260,804 L1261.3,797.7 L1262.6,807 L1263.9,806.9 L1265.2,801.5 L1266.5,800.9 L1267.8,806.5 L1269,800.8 L1270.3,797.3 L1271.6,803.2 L1272.9,802.2 L1274.2,804.5 L1275.5,803.5 L1276.8,795.4 L1278.1,801.8 L1279.4,794.6 L1280.7,794.2 L1281.9,798 L1283.2,802.4 L1284.5,793.1 L1285.8,798.5 L1287.1,799.4 L1288.4,800.5 L1289.7,791.6 L1291,797.4 L1292.3,800.3 L1293.6,797.1 L1294.8,802.3 L1296.1,794 L1297.4,796.3 L1298.7,798.4 L1300,789.7 L1301.3,788.3 L1302.6,800.5 L1303.9,792.4 L1305.2,796.6 L1306.4,784.5 L1307.7,786.1 L1309,795.9 L1310.3,795.1 L1311.6,796.9 L1312.9,781.4 L1314.2,793.3 L1315.5,785.9 L1316.8,787.8 L1318.1,783.1 L1319.3,783.1 L1320.6,778.8 L1321.9,793 L1323.2,776.3 L1324.5,787 L1325.8,780.2 L1327.1,784.5 L1328.4,784.8 L1329.7,778.8 L1331,781 L1332.2,784.1 L1333.5,774.3 L1334.8,778.8 L1336.1,791.8 L1337.4,788.2 L1338.7,783.4 L1340,772.7 L1341.3,772.3 L1342.6,780.3 L1343.8,791.4 L1345.1,772.9 L1346.4,781.7 L1347.7,777 L1349,772.7 L1350.3,774.2 L1351.6,777.8 L1352.9,765.1 L1354.2,779.5 L1355.5,778.8 L1356.7,764.3 L1358,783.6 L1359.3,782 L1360.6,768.3 L1361.9,790.2 L1363.2,772.1 L1364.5,777.6 L1365.8,785.8 L1367.1,788.4 L1368.3,774.9 L1369.6,770.6 L1370.9,789.5 L1372.2,779.5 L1373.5,776.5 L1374.8,776.9 L1376.1,780.8 L1377.4,786.2 L1378.7,773.6 L1380,767.2 L1381.2,788.1 L1382.5,784.5 L1383.8,767.6 L1385.1,768.6 L1386.4,772.4 L1387.7,788.7 L1389,771.1 L1390.3,766.3 L1391.6,766.5 L1392.9,773 L1394.1,790.2 L1395.4,771 L1396.7,788.3 L1398,778 L1399.3,772.5 L1400.6,778.1 L1401.9,792.8 L1403.2,789.7 L1404.5,776.4 L1405.7,793.8 L1407,783.4 L1408.3,788 L1409.6,793.8 L1410.9,783.5 L1412.2,795.4 L1413.5,795.3 L1414.8,789.4 L1416.1,795.7 L1417.4,795.8 L1418.6,785.4 L1419.9,781.9 L1421.2,779.1 L1422.5,795.4 L1423.8,789.1 L1425.1,791.3 L1426.4,784.7 L1427.7,786.8 L1429,777.2 L1430.3,788.7 L1431.5,794.7 L1432.8,780.6 L1434.1,793 L1435.4,781.4 L1436.7,784 L1438,772 L1439.3,778.6 L1440.6,774.6 L1441.9,783 L1443.1,772.3 L1444.4,779.8 L1445.7,763.1 L1447,770.1 L1448.3,782.3 L1449.6,778.4 L1450.9,774.6 L1452.2,763.4 L1453.5,782.3 L1454.8,766 L1456,768.8 L1457.3,786.6 L1458.6,770.3 L1459.9,787.9 L1461.2,787.8 L1462.5,775.1 L1463.8,785.5 L1465.1,768.1 L1466.4,779.5 L1467.7,784.2 L1468.9,771.8 L1470.2,790.8 L1471.5,774.6 L1472.8,791.4 L1474.1,790.3 L1475.4,771.5 L1476.7,777.1 L1478,788.8 L1479.3,791.5 L1480.5,771.5 L1481.8,777.5 L1483.1,773.5 L1484.4,790.9 L1485.7,778.5 L1487,785.4 L1488.3,788.5 L1489.6,786 L1490.9,778.8 L1492.2,785.6 L1493.4,784.6 L1494.7,791 L1496,773.2 L1497.3,777.9 L1498.6,773.9 L1499.9,783.4 L1501.2,772.7 L1502.5,781.3 L1503.8,779.3 L1505,779.8 L1506.3,775.6 L1507.6,784.4 L1508.9,791.9 L1510.2,791.9 L1511.5,789.3 L1512.8,791.9 L1514.1,771.7 L1515.4,782.2 L1516.7,775 L1517.9,791.9 L1519.2,782.5 L1520.5,771.7 L1521.8,778.6 L1523.1,783.5 L1524.4,782.6 L1525.7,791.9 L1527,790.5 L1528.3,790.4 L1529.6,784.9 L1530.8,784.6 L1532.1,772 L1533.4,790.6 L1534.7,788 L1536,787.4 L1537.3,790.4 L1538.6,787.2 L1539.9,788.5 L1541.2,782.2 L1542.4,791.9 L1543.7,771.5 L1545,785.1 L1546.3,771.5 L1547.6,776.9 L1548.9,777.2 L1550.2,782.4 L1551.5,771.5 L1552.8,791.5 L1554.1,777.4 L1555.3,787 L1556.6,777.2 L1557.9,775.8 L1559.2,790.3 L1560.5,789.4 L1561.8,791.9 L1563.1,788.6 L1564.4,791.9 L1565.7,784.2 L1567,771.5 L1568.2,785.2 L1569.5,786.5 L1570.8,782.5 L1572.1,787.3 L1573.4,775.8 L1574.7,776.1 L1576,790.3 L1577.3,788.3 L1578.6,777.3 L1579.8,771.5 L1581.1,778 L1582.4,783.5 L1583.7,771.5 L1585,791.9 L1586.3,791.9 L1587.6,774.6 L1588.9,784 L1590.2,791.9 L1591.5,780.5 L1592.7,771.5 L1594,781.2 L1595.3,785.5 L1596.6,791.9 L1597.9,791.9 L1599.2,771.5 L1600.5,781.9 L1601.8,771.5 L1603.1,791.9 L1604.3,788.3 L1605.6,791.9 L1606.9,784.3 L1608.2,791.9 L1609.5,788 L1610.8,784.1 L1612.1,792.3 L1613.4,801.5 L1614.7,806.2 L1616,796.4 L1617.2,805.3 L1618.5,801.3 L1619.8,802.6 L1621.1,801.1 L1622.4,806.4 L1623.7,803.8 L1625,806.3 L1626.3,801.1 L1627.6,796.8 L1628.9,800.5 L1630.1,797.4 L1631.4,805.2 L1632.7,806.6 L1634,801.3 L1635.3,802 L1636.6,801 L1637.9,803.4 L1639.2,800.4 L1640.5,799.3 L1641.7,797.2 L1643,804.3 L1644.3,802.7 L1645.6,798.2 L1646.9,805.4 L1648.2,806.7 L1649.5,804.4 L1650.8,806.9 L1652.1,799.1 L1653.4,798.5" fill="none" stroke="#0a0a0a" stroke-width="3.5" stroke-dasharray="29 11 3.6 11 3.6 11" stroke-linejoin="round"/>
</g>
</svg>
</body>
</html>
